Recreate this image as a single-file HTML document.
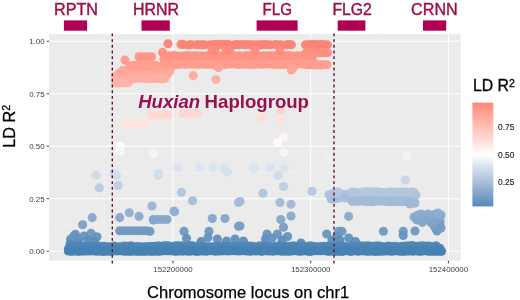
<!DOCTYPE html>
<html><head><meta charset="utf-8"><title>LD R2 plot</title>
<style>
html,body{margin:0;padding:0;background:#fff;}
body{width:520px;height:300px;overflow:hidden;}
svg{display:block;}
text{font-family:"Liberation Sans",sans-serif;}
.tick{font-size:7.9px;fill:#3d3d3d;}
.leg{font-size:8.4px;fill:#1a1a1a;stroke:#1a1a1a;stroke-width:0.12px;}
.gene{font-size:16.1px;fill:#9c1048;stroke:#9c1048;stroke-width:0.4px;}
.anno{font-size:18.4px;font-weight:bold;fill:#99104e;}
.title{font-size:16.9px;fill:#000;stroke:#000;stroke-width:0.25px;}
.title2{font-size:15.8px;fill:#000;stroke:#000;stroke-width:0.3px;}
</style></head><body>
<svg width="520" height="300" viewBox="0 0 520 300">
<rect width="520" height="300" fill="#fff"/>
<rect x="49.0" y="34.0" width="411.7" height="226.60000000000002" fill="#ebebeb"/>
<line x1="49.0" x2="460.7" y1="67.45" y2="67.45" stroke="#f4f4f4" stroke-width="0.55"/>
<line x1="49.0" x2="460.7" y1="119.95" y2="119.95" stroke="#f4f4f4" stroke-width="0.55"/>
<line x1="49.0" x2="460.7" y1="172.45" y2="172.45" stroke="#f4f4f4" stroke-width="0.55"/>
<line x1="49.0" x2="460.7" y1="224.95" y2="224.95" stroke="#f4f4f4" stroke-width="0.55"/>
<line y1="34.0" y2="260.6" x1="104.15" x2="104.15" stroke="#f4f4f4" stroke-width="0.55"/>
<line y1="34.0" y2="260.6" x1="241.85" x2="241.85" stroke="#f4f4f4" stroke-width="0.55"/>
<line y1="34.0" y2="260.6" x1="379.55" x2="379.55" stroke="#f4f4f4" stroke-width="0.55"/>
<line x1="49.0" x2="460.7" y1="41.20" y2="41.20" stroke="#ffffff" stroke-width="1.05"/>
<line x1="49.0" x2="460.7" y1="93.70" y2="93.70" stroke="#ffffff" stroke-width="1.05"/>
<line x1="49.0" x2="460.7" y1="146.20" y2="146.20" stroke="#ffffff" stroke-width="1.05"/>
<line x1="49.0" x2="460.7" y1="198.70" y2="198.70" stroke="#ffffff" stroke-width="1.05"/>
<line x1="49.0" x2="460.7" y1="251.20" y2="251.20" stroke="#ffffff" stroke-width="1.05"/>
<line y1="34.0" y2="260.6" x1="173.00" x2="173.00" stroke="#ffffff" stroke-width="1.05"/>
<line y1="34.0" y2="260.6" x1="310.70" x2="310.70" stroke="#ffffff" stroke-width="1.05"/>
<line y1="34.0" y2="260.6" x1="448.40" x2="448.40" stroke="#ffffff" stroke-width="1.05"/>
<g fill-opacity="0.95">
<circle cx="92.2" cy="217.6" r="4.55" fill="#87a8cc"/>
<circle cx="82.6" cy="224.8" r="4.55" fill="#7aa0c7"/>
<circle cx="91.0" cy="233.2" r="4.55" fill="#6b96c1"/>
<circle cx="97.0" cy="236.8" r="4.55" fill="#6492be"/>
<circle cx="75.4" cy="234.4" r="4.55" fill="#6895c0"/>
<circle cx="70.6" cy="239.2" r="4.55" fill="#5f8fbd"/>
<circle cx="79.0" cy="239.0" r="4.55" fill="#6090bd"/>
<circle cx="73.8" cy="236.0" r="4.55" fill="#6593bf"/>
<circle cx="84.0" cy="236.0" r="4.55" fill="#6593bf"/>
<circle cx="88.0" cy="240.0" r="4.55" fill="#5e8ebc"/>
<circle cx="94.0" cy="241.0" r="4.55" fill="#5c8dbb"/>
<circle cx="78.0" cy="243.0" r="4.55" fill="#588bba"/>
<circle cx="70.0" cy="244.0" r="4.55" fill="#568ab9"/>
<circle cx="95.9" cy="175.3" r="4.55" fill="#cedbea"/>
<circle cx="99.3" cy="187.9" r="4.55" fill="#b9cbe1"/>
<circle cx="116.3" cy="175.3" r="4.55" fill="#cedbea"/>
<circle cx="118.0" cy="185.5" r="4.55" fill="#bdcee3"/>
<circle cx="158.2" cy="175.3" r="4.55" fill="#cedbea"/>
<circle cx="119.7" cy="217.6" r="4.55" fill="#87a8cc"/>
<circle cx="129.3" cy="212.8" r="4.55" fill="#8faecf"/>
<circle cx="139.0" cy="216.4" r="4.55" fill="#89aacd"/>
<circle cx="153.3" cy="220.0" r="4.55" fill="#83a5ca"/>
<circle cx="152.0" cy="206.0" r="4.55" fill="#9bb6d4"/>
<circle cx="174.0" cy="211.0" r="4.55" fill="#92b0d1"/>
<circle cx="119.7" cy="230.8" r="4.55" fill="#6f99c2"/>
<circle cx="124.1" cy="230.8" r="4.55" fill="#6f99c2"/>
<circle cx="128.5" cy="230.8" r="4.55" fill="#6f99c2"/>
<circle cx="132.8" cy="230.8" r="4.55" fill="#6f99c2"/>
<circle cx="137.2" cy="230.8" r="4.55" fill="#6f99c2"/>
<circle cx="141.6" cy="230.8" r="4.55" fill="#6f99c2"/>
<circle cx="146.0" cy="230.8" r="4.55" fill="#6f99c2"/>
<circle cx="153.5" cy="219.5" r="4.55" fill="#83a6cb"/>
<circle cx="158.0" cy="219.5" r="4.55" fill="#83a6cb"/>
<circle cx="162.5" cy="219.5" r="4.55" fill="#83a6cb"/>
<circle cx="167.0" cy="219.5" r="4.55" fill="#83a6cb"/>
<circle cx="178.0" cy="167.5" r="4.55" fill="#dbe4f0"/>
<circle cx="199.4" cy="167.5" r="4.55" fill="#dbe4f0"/>
<circle cx="213.0" cy="167.5" r="4.55" fill="#dbe4f0"/>
<circle cx="224.0" cy="168.0" r="4.55" fill="#dbe4ef"/>
<circle cx="181.4" cy="192.3" r="4.55" fill="#b2c6de"/>
<circle cx="192.6" cy="200.8" r="4.55" fill="#a4bcd8"/>
<circle cx="238.5" cy="202.5" r="4.55" fill="#a1bad7"/>
<circle cx="174.6" cy="211.7" r="4.55" fill="#91afd0"/>
<circle cx="212.3" cy="218.5" r="4.55" fill="#85a7cb"/>
<circle cx="225.0" cy="218.5" r="4.55" fill="#85a7cb"/>
<circle cx="238.5" cy="226.3" r="4.55" fill="#779ec6"/>
<circle cx="150.0" cy="231.4" r="4.55" fill="#6e98c2"/>
<circle cx="184.0" cy="231.4" r="4.55" fill="#6e98c2"/>
<circle cx="186.5" cy="238.2" r="4.55" fill="#6191bd"/>
<circle cx="209.0" cy="231.4" r="4.55" fill="#6e98c2"/>
<circle cx="208.0" cy="237.5" r="4.55" fill="#6291be"/>
<circle cx="217.4" cy="239.0" r="4.55" fill="#6090bd"/>
<circle cx="201.0" cy="241.6" r="4.55" fill="#5a8dbb"/>
<circle cx="226.6" cy="241.0" r="4.55" fill="#5c8dbb"/>
<circle cx="235.0" cy="239.0" r="4.55" fill="#6090bd"/>
<circle cx="253.6" cy="168.5" r="4.55" fill="#dae3ef"/>
<circle cx="270.6" cy="167.5" r="4.55" fill="#dbe4f0"/>
<circle cx="282.5" cy="165.0" r="4.55" fill="#e0e7f1"/>
<circle cx="278.0" cy="175.3" r="4.55" fill="#cedbea"/>
<circle cx="283.5" cy="186.5" r="4.55" fill="#bccde2"/>
<circle cx="263.0" cy="193.3" r="4.55" fill="#b0c5dd"/>
<circle cx="312.0" cy="191.3" r="4.55" fill="#b4c7df"/>
<circle cx="329.0" cy="194.7" r="4.55" fill="#aec3dc"/>
<circle cx="280.0" cy="202.5" r="4.55" fill="#a1bad7"/>
<circle cx="291.0" cy="204.2" r="4.55" fill="#9eb8d5"/>
<circle cx="240.0" cy="201.5" r="4.55" fill="#a2bbd7"/>
<circle cx="291.0" cy="216.0" r="4.55" fill="#8aaacd"/>
<circle cx="280.8" cy="219.5" r="4.55" fill="#83a6cb"/>
<circle cx="283.5" cy="227.3" r="4.55" fill="#769dc5"/>
<circle cx="240.0" cy="226.0" r="4.55" fill="#789ec6"/>
<circle cx="267.0" cy="234.0" r="4.55" fill="#6995c0"/>
<circle cx="277.4" cy="234.0" r="4.55" fill="#6995c0"/>
<circle cx="287.6" cy="236.5" r="4.55" fill="#6492be"/>
<circle cx="265.5" cy="239.0" r="4.55" fill="#6090bd"/>
<circle cx="243.4" cy="241.0" r="4.55" fill="#5c8dbb"/>
<circle cx="326.7" cy="234.0" r="4.55" fill="#6995c0"/>
<circle cx="338.6" cy="231.4" r="4.55" fill="#6e98c2"/>
<circle cx="301.0" cy="243.0" r="4.55" fill="#588bba"/>
<circle cx="272.0" cy="238.0" r="4.55" fill="#6291bd"/>
<circle cx="282.0" cy="240.0" r="4.55" fill="#5e8ebc"/>
<circle cx="113.8" cy="173.8" r="4.55" fill="#d1ddeb"/>
<circle cx="158.8" cy="173.8" r="4.55" fill="#d1ddeb"/>
<circle cx="177.5" cy="167.5" r="4.55" fill="#dbe4f0"/>
<circle cx="253.8" cy="167.5" r="4.55" fill="#dbe4f0"/>
<circle cx="270.0" cy="167.5" r="4.55" fill="#dbe4f0"/>
<circle cx="282.5" cy="162.5" r="4.55" fill="#e4ebf3"/>
<circle cx="283.8" cy="168.8" r="4.55" fill="#d9e3ef"/>
<circle cx="227.5" cy="172.0" r="4.55" fill="#d4dfec"/>
<circle cx="350.8" cy="196.5" r="4.55" fill="#abc1db"/>
<circle cx="361.7" cy="197.9" r="4.55" fill="#a9bfda"/>
<circle cx="382.9" cy="192.9" r="4.55" fill="#b1c5dd"/>
<circle cx="332.1" cy="198.4" r="4.55" fill="#a8bfda"/>
<circle cx="352.5" cy="194.5" r="4.55" fill="#aec3dc"/>
<circle cx="413.6" cy="196.7" r="4.55" fill="#abc1db"/>
<circle cx="400.4" cy="196.7" r="4.55" fill="#abc1db"/>
<circle cx="384.0" cy="193.7" r="4.55" fill="#b0c4dd"/>
<circle cx="383.7" cy="200.4" r="4.55" fill="#a4bcd8"/>
<circle cx="374.4" cy="199.2" r="4.55" fill="#a6bed9"/>
<circle cx="386.7" cy="192.9" r="4.55" fill="#b1c5dd"/>
<circle cx="393.9" cy="197.8" r="4.55" fill="#a9bfda"/>
<circle cx="356.0" cy="192.6" r="4.55" fill="#b2c6de"/>
<circle cx="402.8" cy="196.7" r="4.55" fill="#abc1db"/>
<circle cx="390.7" cy="200.5" r="4.55" fill="#a4bcd8"/>
<circle cx="390.3" cy="200.9" r="4.55" fill="#a4bcd8"/>
<circle cx="363.8" cy="199.7" r="4.55" fill="#a5bdd9"/>
<circle cx="367.9" cy="201.0" r="4.55" fill="#a3bcd8"/>
<circle cx="403.9" cy="193.2" r="4.55" fill="#b0c5dd"/>
<circle cx="342.3" cy="194.4" r="4.55" fill="#aec4dc"/>
<circle cx="411.1" cy="196.4" r="4.55" fill="#abc1db"/>
<circle cx="383.0" cy="195.1" r="4.55" fill="#adc3dc"/>
<circle cx="373.1" cy="195.9" r="4.55" fill="#acc2db"/>
<circle cx="360.1" cy="197.7" r="4.55" fill="#a9c0da"/>
<circle cx="379.5" cy="200.7" r="4.55" fill="#a4bcd8"/>
<circle cx="387.6" cy="200.9" r="4.55" fill="#a3bcd8"/>
<circle cx="402.1" cy="201.5" r="4.55" fill="#a2bbd7"/>
<circle cx="386.7" cy="193.8" r="4.55" fill="#afc4dd"/>
<circle cx="402.4" cy="201.3" r="4.55" fill="#a3bbd8"/>
<circle cx="406.1" cy="197.6" r="4.55" fill="#a9c0da"/>
<circle cx="390.2" cy="194.3" r="4.55" fill="#afc4dd"/>
<circle cx="400.0" cy="197.6" r="4.55" fill="#a9c0da"/>
<circle cx="354.7" cy="192.9" r="4.55" fill="#b1c5dd"/>
<circle cx="401.9" cy="201.5" r="4.55" fill="#a2bbd7"/>
<circle cx="338.3" cy="198.2" r="4.55" fill="#a8bfda"/>
<circle cx="365.1" cy="193.7" r="4.55" fill="#b0c4dd"/>
<circle cx="355.4" cy="199.4" r="4.55" fill="#a6bed9"/>
<circle cx="403.4" cy="192.7" r="4.55" fill="#b1c6de"/>
<circle cx="382.0" cy="192.7" r="4.55" fill="#b1c6de"/>
<circle cx="390.6" cy="195.4" r="4.55" fill="#adc2dc"/>
<circle cx="404.1" cy="201.4" r="4.55" fill="#a3bbd7"/>
<circle cx="372.9" cy="201.6" r="4.55" fill="#a2bbd7"/>
<circle cx="356.7" cy="193.0" r="4.55" fill="#b1c5dd"/>
<circle cx="380.8" cy="192.6" r="4.55" fill="#b1c6de"/>
<circle cx="347.4" cy="195.7" r="4.55" fill="#acc2dc"/>
<circle cx="381.7" cy="193.8" r="4.55" fill="#b0c4dd"/>
<circle cx="334.5" cy="198.6" r="4.55" fill="#a7bed9"/>
<circle cx="357.0" cy="201.2" r="4.55" fill="#a3bbd8"/>
<circle cx="405.4" cy="195.8" r="4.55" fill="#acc2db"/>
<circle cx="369.2" cy="197.1" r="4.55" fill="#aac0da"/>
<circle cx="384.4" cy="197.8" r="4.55" fill="#a9bfda"/>
<circle cx="377.4" cy="198.1" r="4.55" fill="#a8bfda"/>
<circle cx="409.1" cy="197.0" r="4.55" fill="#aac0db"/>
<circle cx="366.8" cy="199.0" r="4.55" fill="#a7bed9"/>
<circle cx="350.7" cy="195.0" r="4.55" fill="#aec3dc"/>
<circle cx="412.2" cy="197.1" r="4.55" fill="#aac0da"/>
<circle cx="376.5" cy="192.4" r="4.55" fill="#b2c6de"/>
<circle cx="365.5" cy="197.7" r="4.55" fill="#a9c0da"/>
<circle cx="332.7" cy="197.0" r="4.55" fill="#aac0db"/>
<circle cx="383.5" cy="192.9" r="4.55" fill="#b1c5de"/>
<circle cx="383.1" cy="196.6" r="4.55" fill="#abc1db"/>
<circle cx="387.4" cy="195.6" r="4.55" fill="#acc2dc"/>
<circle cx="389.7" cy="199.2" r="4.55" fill="#a6bed9"/>
<circle cx="332.8" cy="193.4" r="4.55" fill="#b0c5dd"/>
<circle cx="387.1" cy="201.3" r="4.55" fill="#a3bbd8"/>
<circle cx="351.8" cy="196.0" r="4.55" fill="#acc2db"/>
<circle cx="380.2" cy="195.3" r="4.55" fill="#adc3dc"/>
<circle cx="361.2" cy="195.2" r="4.55" fill="#adc3dc"/>
<circle cx="361.6" cy="197.8" r="4.55" fill="#a9bfda"/>
<circle cx="355.9" cy="195.8" r="4.55" fill="#acc2db"/>
<circle cx="395.1" cy="192.6" r="4.55" fill="#b2c6de"/>
<circle cx="378.2" cy="199.1" r="4.55" fill="#a6bed9"/>
<circle cx="356.7" cy="194.4" r="4.55" fill="#afc4dc"/>
<circle cx="397.7" cy="194.5" r="4.55" fill="#aec3dc"/>
<circle cx="346.6" cy="195.8" r="4.55" fill="#acc2db"/>
<circle cx="388.9" cy="193.2" r="4.55" fill="#b0c5dd"/>
<circle cx="357.7" cy="195.4" r="4.55" fill="#adc2dc"/>
<circle cx="400.2" cy="196.4" r="4.55" fill="#abc1db"/>
<circle cx="402.0" cy="193.9" r="4.55" fill="#afc4dd"/>
<circle cx="358.9" cy="198.3" r="4.55" fill="#a8bfda"/>
<circle cx="404.4" cy="196.5" r="4.55" fill="#abc1db"/>
<circle cx="349.7" cy="193.8" r="4.55" fill="#afc4dd"/>
<circle cx="375.0" cy="194.1" r="4.55" fill="#afc4dd"/>
<circle cx="398.0" cy="200.1" r="4.55" fill="#a5bdd8"/>
<circle cx="346.2" cy="194.8" r="4.55" fill="#aec3dc"/>
<circle cx="398.0" cy="198.3" r="4.55" fill="#a8bfda"/>
<circle cx="397.9" cy="195.5" r="4.55" fill="#adc2dc"/>
<circle cx="341.8" cy="194.9" r="4.55" fill="#aec3dc"/>
<circle cx="396.9" cy="194.8" r="4.55" fill="#aec3dc"/>
<circle cx="359.7" cy="196.2" r="4.55" fill="#abc1db"/>
<circle cx="365.8" cy="196.1" r="4.55" fill="#acc2db"/>
<circle cx="407.4" cy="193.8" r="4.55" fill="#b0c4dd"/>
<circle cx="331.4" cy="199.1" r="4.55" fill="#a6bed9"/>
<circle cx="404.0" cy="201.5" r="4.55" fill="#a2bbd7"/>
<circle cx="367.1" cy="201.1" r="4.55" fill="#a3bcd8"/>
<circle cx="408.0" cy="194.4" r="4.55" fill="#afc4dc"/>
<circle cx="392.9" cy="200.1" r="4.55" fill="#a5bdd8"/>
<circle cx="386.0" cy="197.1" r="4.55" fill="#aac0da"/>
<circle cx="355.0" cy="195.5" r="4.55" fill="#adc2dc"/>
<circle cx="349.9" cy="193.4" r="4.55" fill="#b0c5dd"/>
<circle cx="379.9" cy="195.0" r="4.55" fill="#adc3dc"/>
<circle cx="398.2" cy="192.7" r="4.55" fill="#b1c6de"/>
<circle cx="406.0" cy="198.8" r="4.55" fill="#a7bed9"/>
<circle cx="407.7" cy="200.6" r="4.55" fill="#a4bcd8"/>
<circle cx="405.7" cy="197.7" r="4.55" fill="#a9c0da"/>
<circle cx="332.1" cy="197.8" r="4.55" fill="#a9bfda"/>
<circle cx="345.3" cy="194.9" r="4.55" fill="#aec3dc"/>
<circle cx="386.0" cy="197.2" r="4.55" fill="#aac0da"/>
<circle cx="365.3" cy="201.0" r="4.55" fill="#a3bcd8"/>
<circle cx="381.8" cy="195.5" r="4.55" fill="#adc2dc"/>
<circle cx="352.0" cy="198.6" r="4.55" fill="#a7bfd9"/>
<circle cx="370.6" cy="199.6" r="4.55" fill="#a6bdd9"/>
<circle cx="360.2" cy="194.1" r="4.55" fill="#afc4dd"/>
<circle cx="375.4" cy="199.9" r="4.55" fill="#a5bdd8"/>
<circle cx="345.2" cy="198.1" r="4.55" fill="#a8bfda"/>
<circle cx="407.5" cy="199.8" r="4.55" fill="#a5bdd9"/>
<circle cx="399.4" cy="192.4" r="4.55" fill="#b2c6de"/>
<circle cx="383.2" cy="200.3" r="4.55" fill="#a4bcd8"/>
<circle cx="335.1" cy="194.8" r="4.55" fill="#aec3dc"/>
<circle cx="353.3" cy="197.2" r="4.55" fill="#aac0da"/>
<circle cx="352.0" cy="192.1" r="4.55" fill="#b2c6de"/>
<circle cx="355.9" cy="192.2" r="4.55" fill="#b2c6de"/>
<circle cx="359.8" cy="192.5" r="4.55" fill="#b2c6de"/>
<circle cx="363.6" cy="191.7" r="4.55" fill="#b3c7de"/>
<circle cx="367.5" cy="191.8" r="4.55" fill="#b3c7de"/>
<circle cx="371.4" cy="191.8" r="4.55" fill="#b3c7de"/>
<circle cx="375.2" cy="191.8" r="4.55" fill="#b3c7de"/>
<circle cx="379.1" cy="191.8" r="4.55" fill="#b3c7de"/>
<circle cx="383.0" cy="192.7" r="4.55" fill="#b1c6de"/>
<circle cx="386.9" cy="192.6" r="4.55" fill="#b2c6de"/>
<circle cx="390.8" cy="191.8" r="4.55" fill="#b3c7de"/>
<circle cx="394.6" cy="192.2" r="4.55" fill="#b2c6de"/>
<circle cx="398.5" cy="192.0" r="4.55" fill="#b2c6de"/>
<circle cx="402.4" cy="192.0" r="4.55" fill="#b2c6de"/>
<circle cx="406.2" cy="192.1" r="4.55" fill="#b2c6de"/>
<circle cx="410.1" cy="192.3" r="4.55" fill="#b2c6de"/>
<circle cx="414.0" cy="192.3" r="4.55" fill="#b2c6de"/>
<circle cx="352.0" cy="201.4" r="4.55" fill="#a3bbd7"/>
<circle cx="355.9" cy="201.2" r="4.55" fill="#a3bbd8"/>
<circle cx="359.8" cy="201.3" r="4.55" fill="#a3bbd7"/>
<circle cx="363.6" cy="201.1" r="4.55" fill="#a3bcd8"/>
<circle cx="367.5" cy="201.6" r="4.55" fill="#a2bbd7"/>
<circle cx="371.4" cy="201.7" r="4.55" fill="#a2bbd7"/>
<circle cx="375.2" cy="201.4" r="4.55" fill="#a3bbd7"/>
<circle cx="379.1" cy="201.1" r="4.55" fill="#a3bcd8"/>
<circle cx="383.0" cy="201.2" r="4.55" fill="#a3bbd8"/>
<circle cx="386.9" cy="201.4" r="4.55" fill="#a3bbd7"/>
<circle cx="390.8" cy="201.6" r="4.55" fill="#a2bbd7"/>
<circle cx="394.6" cy="201.8" r="4.55" fill="#a2bbd7"/>
<circle cx="398.5" cy="201.4" r="4.55" fill="#a3bbd7"/>
<circle cx="402.4" cy="201.8" r="4.55" fill="#a2bbd7"/>
<circle cx="406.2" cy="201.6" r="4.55" fill="#a2bbd7"/>
<circle cx="410.1" cy="201.4" r="4.55" fill="#a3bbd7"/>
<circle cx="414.0" cy="201.4" r="4.55" fill="#a3bbd7"/>
<circle cx="334.0" cy="195.0" r="4.55" fill="#adc3dc"/>
<circle cx="334.0" cy="199.0" r="4.55" fill="#a7bed9"/>
<circle cx="338.0" cy="192.0" r="4.55" fill="#b2c6de"/>
<circle cx="414.0" cy="203.0" r="4.55" fill="#a0b9d6"/>
<circle cx="410.0" cy="204.0" r="4.55" fill="#9eb8d6"/>
<circle cx="412.0" cy="192.0" r="4.55" fill="#b2c6de"/>
<circle cx="405.5" cy="180.0" r="4.55" fill="#c7d5e7"/>
<circle cx="348.6" cy="216.4" r="4.55" fill="#89aacd"/>
<circle cx="383.4" cy="231.3" r="4.55" fill="#6e98c2"/>
<circle cx="403.2" cy="231.3" r="4.55" fill="#6e98c2"/>
<circle cx="403.2" cy="235.5" r="4.55" fill="#6694bf"/>
<circle cx="415.0" cy="231.0" r="4.55" fill="#6f99c2"/>
<circle cx="342.0" cy="231.4" r="4.55" fill="#6e98c2"/>
<circle cx="336.8" cy="236.5" r="4.55" fill="#6492be"/>
<circle cx="348.7" cy="238.0" r="4.55" fill="#6291bd"/>
<circle cx="355.5" cy="241.6" r="4.55" fill="#5a8dbb"/>
<circle cx="332.0" cy="240.0" r="4.55" fill="#5e8ebc"/>
<circle cx="340.0" cy="240.0" r="4.55" fill="#5e8ebc"/>
<circle cx="414.0" cy="217.0" r="4.55" fill="#88a9cc"/>
<circle cx="421.0" cy="214.0" r="4.55" fill="#8dacce"/>
<circle cx="427.8" cy="214.0" r="4.55" fill="#8dacce"/>
<circle cx="436.0" cy="214.0" r="4.55" fill="#8dacce"/>
<circle cx="440.0" cy="221.0" r="4.55" fill="#81a4c9"/>
<circle cx="422.3" cy="222.3" r="4.55" fill="#7ea3c9"/>
<circle cx="430.5" cy="222.3" r="4.55" fill="#7ea3c9"/>
<circle cx="436.0" cy="229.0" r="4.55" fill="#729bc4"/>
<circle cx="438.7" cy="226.4" r="4.55" fill="#779ec6"/>
<circle cx="417.0" cy="220.0" r="4.55" fill="#83a5ca"/>
<circle cx="432.0" cy="218.0" r="4.55" fill="#86a8cc"/>
<circle cx="425.0" cy="218.0" r="4.55" fill="#86a8cc"/>
<circle cx="440.0" cy="217.0" r="4.55" fill="#88a9cc"/>
<circle cx="420.0" cy="219.0" r="4.55" fill="#84a6cb"/>
<circle cx="424.0" cy="216.0" r="4.55" fill="#8aaacd"/>
<circle cx="428.0" cy="219.0" r="4.55" fill="#84a6cb"/>
<circle cx="432.0" cy="215.0" r="4.55" fill="#8babce"/>
<circle cx="436.0" cy="218.0" r="4.55" fill="#86a8cc"/>
<circle cx="440.0" cy="224.0" r="4.55" fill="#7ba1c7"/>
<circle cx="437.0" cy="231.0" r="4.55" fill="#6f99c2"/>
<circle cx="434.0" cy="226.0" r="4.55" fill="#789ec6"/>
<circle cx="441.0" cy="215.0" r="4.55" fill="#8babce"/>
<circle cx="438.0" cy="213.0" r="4.55" fill="#8fadcf"/>
<circle cx="418.0" cy="215.0" r="4.55" fill="#8babce"/>
<circle cx="433.0" cy="222.0" r="4.55" fill="#7fa3c9"/>
<circle cx="441.0" cy="228.0" r="4.55" fill="#749cc4"/>
<circle cx="416.0" cy="195.0" r="4.55" fill="#adc3dc"/>
<circle cx="415.0" cy="203.0" r="4.55" fill="#a0b9d6"/>
<circle cx="70.0" cy="246.3" r="4.55" fill="#5187b7"/>
<circle cx="73.4" cy="246.6" r="4.55" fill="#5087b7"/>
<circle cx="76.8" cy="246.2" r="4.55" fill="#5188b8"/>
<circle cx="80.2" cy="246.6" r="4.55" fill="#5087b7"/>
<circle cx="83.6" cy="246.2" r="4.55" fill="#5187b8"/>
<circle cx="86.9" cy="245.9" r="4.55" fill="#5288b8"/>
<circle cx="90.3" cy="246.4" r="4.55" fill="#5187b7"/>
<circle cx="93.7" cy="246.6" r="4.55" fill="#5087b7"/>
<circle cx="97.1" cy="245.7" r="4.55" fill="#5288b8"/>
<circle cx="100.5" cy="246.2" r="4.55" fill="#5188b8"/>
<circle cx="103.9" cy="246.2" r="4.55" fill="#5188b8"/>
<circle cx="107.3" cy="246.8" r="4.55" fill="#5087b7"/>
<circle cx="110.7" cy="246.9" r="4.55" fill="#4f87b7"/>
<circle cx="114.1" cy="246.1" r="4.55" fill="#5188b8"/>
<circle cx="117.4" cy="246.9" r="4.55" fill="#5087b7"/>
<circle cx="120.8" cy="246.7" r="4.55" fill="#5087b7"/>
<circle cx="124.2" cy="246.0" r="4.55" fill="#5188b8"/>
<circle cx="127.6" cy="246.2" r="4.55" fill="#5187b8"/>
<circle cx="131.0" cy="245.8" r="4.55" fill="#5288b8"/>
<circle cx="134.4" cy="246.7" r="4.55" fill="#5087b7"/>
<circle cx="137.8" cy="246.5" r="4.55" fill="#5087b7"/>
<circle cx="141.2" cy="246.8" r="4.55" fill="#5087b7"/>
<circle cx="144.6" cy="246.7" r="4.55" fill="#5087b7"/>
<circle cx="147.9" cy="246.5" r="4.55" fill="#5087b7"/>
<circle cx="151.3" cy="246.6" r="4.55" fill="#5087b7"/>
<circle cx="154.7" cy="246.4" r="4.55" fill="#5187b7"/>
<circle cx="158.1" cy="245.7" r="4.55" fill="#5288b8"/>
<circle cx="161.5" cy="246.4" r="4.55" fill="#5187b7"/>
<circle cx="164.9" cy="245.6" r="4.55" fill="#5288b8"/>
<circle cx="168.3" cy="245.8" r="4.55" fill="#5288b8"/>
<circle cx="171.7" cy="246.7" r="4.55" fill="#5087b7"/>
<circle cx="175.1" cy="245.7" r="4.55" fill="#5288b8"/>
<circle cx="178.4" cy="245.7" r="4.55" fill="#5288b8"/>
<circle cx="181.8" cy="245.7" r="4.55" fill="#5288b8"/>
<circle cx="185.2" cy="246.8" r="4.55" fill="#5087b7"/>
<circle cx="188.6" cy="245.9" r="4.55" fill="#5288b8"/>
<circle cx="192.0" cy="245.6" r="4.55" fill="#5288b8"/>
<circle cx="195.4" cy="246.8" r="4.55" fill="#5087b7"/>
<circle cx="198.8" cy="245.8" r="4.55" fill="#5288b8"/>
<circle cx="202.2" cy="246.8" r="4.55" fill="#5087b7"/>
<circle cx="205.6" cy="246.5" r="4.55" fill="#5087b7"/>
<circle cx="208.9" cy="246.8" r="4.55" fill="#5087b7"/>
<circle cx="212.3" cy="246.9" r="4.55" fill="#4f87b7"/>
<circle cx="215.7" cy="246.4" r="4.55" fill="#5187b7"/>
<circle cx="219.1" cy="246.7" r="4.55" fill="#5087b7"/>
<circle cx="222.5" cy="245.7" r="4.55" fill="#5288b8"/>
<circle cx="225.9" cy="246.7" r="4.55" fill="#5087b7"/>
<circle cx="229.3" cy="246.3" r="4.55" fill="#5187b7"/>
<circle cx="232.7" cy="246.6" r="4.55" fill="#5087b7"/>
<circle cx="236.1" cy="245.7" r="4.55" fill="#5288b8"/>
<circle cx="239.4" cy="246.6" r="4.55" fill="#5087b7"/>
<circle cx="242.8" cy="246.9" r="4.55" fill="#4f87b7"/>
<circle cx="246.2" cy="245.7" r="4.55" fill="#5288b8"/>
<circle cx="249.6" cy="246.1" r="4.55" fill="#5188b8"/>
<circle cx="253.0" cy="246.4" r="4.55" fill="#5187b7"/>
<circle cx="256.4" cy="246.8" r="4.55" fill="#5087b7"/>
<circle cx="259.8" cy="245.9" r="4.55" fill="#5288b8"/>
<circle cx="263.2" cy="245.9" r="4.55" fill="#5288b8"/>
<circle cx="266.6" cy="245.9" r="4.55" fill="#5288b8"/>
<circle cx="269.9" cy="246.5" r="4.55" fill="#5087b7"/>
<circle cx="273.3" cy="246.7" r="4.55" fill="#5087b7"/>
<circle cx="276.7" cy="246.2" r="4.55" fill="#5188b8"/>
<circle cx="280.1" cy="246.1" r="4.55" fill="#5188b8"/>
<circle cx="283.5" cy="246.2" r="4.55" fill="#5188b8"/>
<circle cx="286.9" cy="246.1" r="4.55" fill="#5188b8"/>
<circle cx="290.3" cy="246.2" r="4.55" fill="#5188b8"/>
<circle cx="293.7" cy="245.7" r="4.55" fill="#5288b8"/>
<circle cx="297.1" cy="246.3" r="4.55" fill="#5187b7"/>
<circle cx="300.4" cy="247.0" r="4.55" fill="#4f87b7"/>
<circle cx="303.8" cy="246.2" r="4.55" fill="#5188b8"/>
<circle cx="307.2" cy="246.6" r="4.55" fill="#5087b7"/>
<circle cx="310.6" cy="245.8" r="4.55" fill="#5288b8"/>
<circle cx="314.0" cy="246.6" r="4.55" fill="#5087b7"/>
<circle cx="317.4" cy="246.7" r="4.55" fill="#5087b7"/>
<circle cx="320.8" cy="246.5" r="4.55" fill="#5087b7"/>
<circle cx="324.2" cy="246.3" r="4.55" fill="#5187b7"/>
<circle cx="327.6" cy="246.3" r="4.55" fill="#5187b7"/>
<circle cx="330.9" cy="246.5" r="4.55" fill="#5087b7"/>
<circle cx="334.3" cy="246.9" r="4.55" fill="#5087b7"/>
<circle cx="337.7" cy="245.8" r="4.55" fill="#5288b8"/>
<circle cx="341.1" cy="245.7" r="4.55" fill="#5288b8"/>
<circle cx="344.5" cy="246.6" r="4.55" fill="#5087b7"/>
<circle cx="347.9" cy="246.9" r="4.55" fill="#5087b7"/>
<circle cx="351.3" cy="246.3" r="4.55" fill="#5187b7"/>
<circle cx="354.7" cy="246.2" r="4.55" fill="#5188b8"/>
<circle cx="358.1" cy="246.6" r="4.55" fill="#5087b7"/>
<circle cx="361.4" cy="245.9" r="4.55" fill="#5288b8"/>
<circle cx="364.8" cy="246.0" r="4.55" fill="#5188b8"/>
<circle cx="368.2" cy="245.9" r="4.55" fill="#5288b8"/>
<circle cx="371.6" cy="246.4" r="4.55" fill="#5187b7"/>
<circle cx="375.0" cy="246.0" r="4.55" fill="#5188b8"/>
<circle cx="378.4" cy="245.9" r="4.55" fill="#5288b8"/>
<circle cx="381.8" cy="246.6" r="4.55" fill="#5087b7"/>
<circle cx="385.2" cy="246.9" r="4.55" fill="#4f87b7"/>
<circle cx="388.6" cy="246.0" r="4.55" fill="#5188b8"/>
<circle cx="391.9" cy="246.6" r="4.55" fill="#5087b7"/>
<circle cx="395.3" cy="246.2" r="4.55" fill="#5188b8"/>
<circle cx="398.7" cy="246.8" r="4.55" fill="#5087b7"/>
<circle cx="402.1" cy="246.4" r="4.55" fill="#5187b7"/>
<circle cx="405.5" cy="246.0" r="4.55" fill="#5188b8"/>
<circle cx="408.9" cy="245.9" r="4.55" fill="#5288b8"/>
<circle cx="412.3" cy="245.6" r="4.55" fill="#5288b8"/>
<circle cx="415.7" cy="246.3" r="4.55" fill="#5187b7"/>
<circle cx="419.1" cy="246.1" r="4.55" fill="#5188b8"/>
<circle cx="422.4" cy="245.8" r="4.55" fill="#5288b8"/>
<circle cx="425.8" cy="246.1" r="4.55" fill="#5188b8"/>
<circle cx="429.2" cy="246.1" r="4.55" fill="#5188b8"/>
<circle cx="432.6" cy="246.7" r="4.55" fill="#5087b7"/>
<circle cx="436.0" cy="245.8" r="4.55" fill="#5288b8"/>
<circle cx="68.5" cy="248.6" r="4.55" fill="#4c85b6"/>
<circle cx="71.1" cy="247.8" r="4.55" fill="#4e86b6"/>
<circle cx="73.7" cy="248.0" r="4.55" fill="#4d86b6"/>
<circle cx="76.3" cy="247.7" r="4.55" fill="#4e86b6"/>
<circle cx="78.9" cy="248.3" r="4.55" fill="#4c85b6"/>
<circle cx="81.5" cy="248.3" r="4.55" fill="#4c85b6"/>
<circle cx="84.1" cy="247.9" r="4.55" fill="#4d86b6"/>
<circle cx="86.7" cy="247.8" r="4.55" fill="#4e86b6"/>
<circle cx="89.3" cy="248.2" r="4.55" fill="#4d85b6"/>
<circle cx="91.9" cy="248.4" r="4.55" fill="#4c85b6"/>
<circle cx="94.5" cy="247.6" r="4.55" fill="#4e86b7"/>
<circle cx="97.1" cy="248.2" r="4.55" fill="#4d85b6"/>
<circle cx="99.7" cy="248.5" r="4.55" fill="#4c85b6"/>
<circle cx="102.3" cy="247.7" r="4.55" fill="#4e86b6"/>
<circle cx="104.9" cy="247.4" r="4.55" fill="#4e86b7"/>
<circle cx="107.5" cy="247.4" r="4.55" fill="#4e86b7"/>
<circle cx="110.1" cy="248.1" r="4.55" fill="#4d85b6"/>
<circle cx="112.7" cy="248.1" r="4.55" fill="#4d85b6"/>
<circle cx="115.3" cy="248.5" r="4.55" fill="#4c85b6"/>
<circle cx="117.9" cy="248.4" r="4.55" fill="#4c85b6"/>
<circle cx="120.5" cy="247.4" r="4.55" fill="#4e86b7"/>
<circle cx="123.1" cy="247.3" r="4.55" fill="#4f86b7"/>
<circle cx="125.7" cy="247.4" r="4.55" fill="#4e86b7"/>
<circle cx="128.3" cy="247.3" r="4.55" fill="#4f86b7"/>
<circle cx="130.8" cy="248.1" r="4.55" fill="#4d85b6"/>
<circle cx="133.4" cy="248.4" r="4.55" fill="#4c85b6"/>
<circle cx="136.0" cy="248.4" r="4.55" fill="#4c85b6"/>
<circle cx="138.6" cy="247.4" r="4.55" fill="#4e86b7"/>
<circle cx="141.2" cy="248.4" r="4.55" fill="#4c85b6"/>
<circle cx="143.8" cy="247.5" r="4.55" fill="#4e86b7"/>
<circle cx="146.4" cy="247.7" r="4.55" fill="#4e86b6"/>
<circle cx="149.0" cy="248.2" r="4.55" fill="#4d85b6"/>
<circle cx="151.6" cy="247.1" r="4.55" fill="#4f87b7"/>
<circle cx="154.2" cy="247.1" r="4.55" fill="#4f86b7"/>
<circle cx="156.8" cy="248.3" r="4.55" fill="#4c85b6"/>
<circle cx="159.4" cy="247.5" r="4.55" fill="#4e86b7"/>
<circle cx="162.0" cy="247.6" r="4.55" fill="#4e86b7"/>
<circle cx="164.6" cy="247.9" r="4.55" fill="#4d86b6"/>
<circle cx="167.2" cy="248.1" r="4.55" fill="#4d85b6"/>
<circle cx="169.8" cy="247.0" r="4.55" fill="#4f87b7"/>
<circle cx="172.4" cy="247.5" r="4.55" fill="#4e86b7"/>
<circle cx="175.0" cy="247.7" r="4.55" fill="#4e86b6"/>
<circle cx="177.6" cy="247.8" r="4.55" fill="#4e86b6"/>
<circle cx="180.2" cy="247.3" r="4.55" fill="#4f86b7"/>
<circle cx="182.8" cy="247.9" r="4.55" fill="#4d86b6"/>
<circle cx="185.4" cy="248.5" r="4.55" fill="#4c85b6"/>
<circle cx="188.0" cy="247.6" r="4.55" fill="#4e86b7"/>
<circle cx="190.6" cy="247.9" r="4.55" fill="#4d86b6"/>
<circle cx="193.2" cy="247.2" r="4.55" fill="#4f86b7"/>
<circle cx="195.8" cy="247.4" r="4.55" fill="#4e86b7"/>
<circle cx="198.4" cy="248.1" r="4.55" fill="#4d85b6"/>
<circle cx="201.0" cy="247.2" r="4.55" fill="#4f86b7"/>
<circle cx="203.6" cy="248.4" r="4.55" fill="#4c85b6"/>
<circle cx="206.2" cy="248.5" r="4.55" fill="#4c85b6"/>
<circle cx="208.8" cy="247.2" r="4.55" fill="#4f86b7"/>
<circle cx="211.4" cy="248.5" r="4.55" fill="#4c85b6"/>
<circle cx="214.0" cy="247.6" r="4.55" fill="#4e86b7"/>
<circle cx="216.6" cy="248.2" r="4.55" fill="#4d85b6"/>
<circle cx="219.2" cy="248.2" r="4.55" fill="#4d85b6"/>
<circle cx="221.8" cy="247.5" r="4.55" fill="#4e86b7"/>
<circle cx="224.4" cy="248.1" r="4.55" fill="#4d85b6"/>
<circle cx="227.0" cy="248.0" r="4.55" fill="#4d85b6"/>
<circle cx="229.6" cy="248.3" r="4.55" fill="#4d85b6"/>
<circle cx="232.2" cy="247.4" r="4.55" fill="#4e86b7"/>
<circle cx="234.8" cy="248.2" r="4.55" fill="#4d85b6"/>
<circle cx="237.4" cy="248.5" r="4.55" fill="#4c85b6"/>
<circle cx="240.0" cy="248.1" r="4.55" fill="#4d85b6"/>
<circle cx="242.6" cy="247.9" r="4.55" fill="#4d86b6"/>
<circle cx="245.2" cy="247.2" r="4.55" fill="#4f86b7"/>
<circle cx="247.8" cy="247.8" r="4.55" fill="#4e86b6"/>
<circle cx="250.4" cy="247.6" r="4.55" fill="#4e86b7"/>
<circle cx="253.0" cy="248.1" r="4.55" fill="#4d85b6"/>
<circle cx="255.5" cy="248.1" r="4.55" fill="#4d85b6"/>
<circle cx="258.1" cy="247.9" r="4.55" fill="#4d86b6"/>
<circle cx="260.7" cy="247.3" r="4.55" fill="#4f86b7"/>
<circle cx="263.3" cy="248.0" r="4.55" fill="#4d86b6"/>
<circle cx="265.9" cy="248.0" r="4.55" fill="#4d86b6"/>
<circle cx="268.5" cy="247.3" r="4.55" fill="#4f86b7"/>
<circle cx="271.1" cy="248.4" r="4.55" fill="#4c85b6"/>
<circle cx="273.7" cy="248.0" r="4.55" fill="#4d85b6"/>
<circle cx="276.3" cy="247.2" r="4.55" fill="#4f86b7"/>
<circle cx="278.9" cy="248.5" r="4.55" fill="#4c85b6"/>
<circle cx="281.5" cy="247.2" r="4.55" fill="#4f86b7"/>
<circle cx="284.1" cy="247.5" r="4.55" fill="#4e86b7"/>
<circle cx="286.7" cy="248.2" r="4.55" fill="#4d85b6"/>
<circle cx="289.3" cy="248.0" r="4.55" fill="#4d86b6"/>
<circle cx="291.9" cy="247.9" r="4.55" fill="#4d86b6"/>
<circle cx="294.5" cy="248.0" r="4.55" fill="#4d86b6"/>
<circle cx="297.1" cy="247.7" r="4.55" fill="#4e86b6"/>
<circle cx="299.7" cy="247.5" r="4.55" fill="#4e86b7"/>
<circle cx="302.3" cy="247.3" r="4.55" fill="#4f86b7"/>
<circle cx="304.9" cy="247.1" r="4.55" fill="#4f87b7"/>
<circle cx="307.5" cy="248.1" r="4.55" fill="#4d85b6"/>
<circle cx="310.1" cy="248.2" r="4.55" fill="#4d85b6"/>
<circle cx="312.7" cy="247.9" r="4.55" fill="#4d86b6"/>
<circle cx="315.3" cy="248.2" r="4.55" fill="#4d85b6"/>
<circle cx="317.9" cy="247.6" r="4.55" fill="#4e86b7"/>
<circle cx="320.5" cy="247.4" r="4.55" fill="#4e86b7"/>
<circle cx="323.1" cy="247.6" r="4.55" fill="#4e86b7"/>
<circle cx="325.7" cy="248.4" r="4.55" fill="#4c85b6"/>
<circle cx="328.3" cy="247.1" r="4.55" fill="#4f87b7"/>
<circle cx="330.9" cy="247.8" r="4.55" fill="#4e86b6"/>
<circle cx="333.5" cy="247.4" r="4.55" fill="#4e86b7"/>
<circle cx="336.1" cy="248.2" r="4.55" fill="#4d85b6"/>
<circle cx="338.7" cy="247.6" r="4.55" fill="#4e86b7"/>
<circle cx="341.3" cy="247.5" r="4.55" fill="#4e86b7"/>
<circle cx="343.9" cy="247.6" r="4.55" fill="#4e86b7"/>
<circle cx="346.5" cy="247.9" r="4.55" fill="#4d86b6"/>
<circle cx="349.1" cy="248.2" r="4.55" fill="#4d85b6"/>
<circle cx="351.7" cy="247.6" r="4.55" fill="#4e86b7"/>
<circle cx="354.3" cy="248.4" r="4.55" fill="#4c85b6"/>
<circle cx="356.9" cy="247.2" r="4.55" fill="#4f86b7"/>
<circle cx="359.5" cy="247.4" r="4.55" fill="#4e86b7"/>
<circle cx="362.1" cy="247.2" r="4.55" fill="#4f86b7"/>
<circle cx="364.7" cy="247.2" r="4.55" fill="#4f86b7"/>
<circle cx="367.3" cy="248.2" r="4.55" fill="#4d85b6"/>
<circle cx="369.9" cy="248.2" r="4.55" fill="#4d85b6"/>
<circle cx="372.5" cy="247.3" r="4.55" fill="#4f86b7"/>
<circle cx="375.1" cy="247.3" r="4.55" fill="#4f86b7"/>
<circle cx="377.7" cy="247.7" r="4.55" fill="#4e86b7"/>
<circle cx="380.2" cy="248.2" r="4.55" fill="#4d85b6"/>
<circle cx="382.8" cy="248.3" r="4.55" fill="#4c85b6"/>
<circle cx="385.4" cy="248.2" r="4.55" fill="#4d85b6"/>
<circle cx="388.0" cy="247.9" r="4.55" fill="#4d86b6"/>
<circle cx="390.6" cy="247.2" r="4.55" fill="#4f86b7"/>
<circle cx="393.2" cy="247.6" r="4.55" fill="#4e86b7"/>
<circle cx="395.8" cy="247.3" r="4.55" fill="#4f86b7"/>
<circle cx="398.4" cy="247.8" r="4.55" fill="#4d86b6"/>
<circle cx="401.0" cy="247.9" r="4.55" fill="#4d86b6"/>
<circle cx="403.6" cy="247.3" r="4.55" fill="#4f86b7"/>
<circle cx="406.2" cy="247.4" r="4.55" fill="#4e86b7"/>
<circle cx="408.8" cy="248.3" r="4.55" fill="#4d85b6"/>
<circle cx="411.4" cy="247.0" r="4.55" fill="#4f87b7"/>
<circle cx="414.0" cy="248.3" r="4.55" fill="#4d85b6"/>
<circle cx="416.6" cy="248.4" r="4.55" fill="#4c85b6"/>
<circle cx="419.2" cy="248.5" r="4.55" fill="#4c85b6"/>
<circle cx="421.8" cy="247.6" r="4.55" fill="#4e86b7"/>
<circle cx="424.4" cy="247.9" r="4.55" fill="#4d86b6"/>
<circle cx="427.0" cy="247.9" r="4.55" fill="#4d86b6"/>
<circle cx="429.6" cy="248.0" r="4.55" fill="#4d86b6"/>
<circle cx="432.2" cy="248.6" r="4.55" fill="#4c85b6"/>
<circle cx="434.8" cy="248.1" r="4.55" fill="#4d85b6"/>
<circle cx="437.4" cy="247.5" r="4.55" fill="#4e86b7"/>
<circle cx="440.0" cy="248.4" r="4.55" fill="#4c85b6"/>
<circle cx="68.3" cy="251.0" r="4.55" fill="#4682b4"/>
<circle cx="70.5" cy="251.1" r="4.55" fill="#4682b4"/>
<circle cx="72.7" cy="251.2" r="4.55" fill="#4682b4"/>
<circle cx="74.9" cy="250.6" r="4.55" fill="#4783b4"/>
<circle cx="77.1" cy="251.2" r="4.55" fill="#4682b4"/>
<circle cx="79.3" cy="251.1" r="4.55" fill="#4682b4"/>
<circle cx="81.5" cy="251.0" r="4.55" fill="#4682b4"/>
<circle cx="83.7" cy="251.0" r="4.55" fill="#4682b4"/>
<circle cx="85.9" cy="251.0" r="4.55" fill="#4782b4"/>
<circle cx="88.1" cy="250.8" r="4.55" fill="#4782b4"/>
<circle cx="90.3" cy="251.0" r="4.55" fill="#4682b4"/>
<circle cx="92.5" cy="250.6" r="4.55" fill="#4783b4"/>
<circle cx="94.7" cy="251.0" r="4.55" fill="#4682b4"/>
<circle cx="96.8" cy="251.1" r="4.55" fill="#4682b4"/>
<circle cx="99.0" cy="251.0" r="4.55" fill="#4782b4"/>
<circle cx="101.2" cy="251.1" r="4.55" fill="#4682b4"/>
<circle cx="103.4" cy="251.4" r="4.55" fill="#4682b4"/>
<circle cx="105.6" cy="251.3" r="4.55" fill="#4682b4"/>
<circle cx="107.8" cy="250.7" r="4.55" fill="#4783b4"/>
<circle cx="110.0" cy="251.2" r="4.55" fill="#4682b4"/>
<circle cx="112.2" cy="251.1" r="4.55" fill="#4682b4"/>
<circle cx="114.4" cy="250.6" r="4.55" fill="#4783b4"/>
<circle cx="116.6" cy="250.9" r="4.55" fill="#4782b4"/>
<circle cx="118.8" cy="250.8" r="4.55" fill="#4782b4"/>
<circle cx="121.0" cy="250.7" r="4.55" fill="#4783b4"/>
<circle cx="123.2" cy="251.0" r="4.55" fill="#4682b4"/>
<circle cx="125.4" cy="251.3" r="4.55" fill="#4682b4"/>
<circle cx="127.6" cy="250.9" r="4.55" fill="#4782b4"/>
<circle cx="129.8" cy="251.3" r="4.55" fill="#4682b4"/>
<circle cx="132.0" cy="251.2" r="4.55" fill="#4682b4"/>
<circle cx="134.2" cy="250.7" r="4.55" fill="#4783b4"/>
<circle cx="136.4" cy="251.3" r="4.55" fill="#4682b4"/>
<circle cx="138.6" cy="251.1" r="4.55" fill="#4682b4"/>
<circle cx="140.8" cy="251.3" r="4.55" fill="#4682b4"/>
<circle cx="143.0" cy="251.2" r="4.55" fill="#4682b4"/>
<circle cx="145.2" cy="251.2" r="4.55" fill="#4682b4"/>
<circle cx="147.4" cy="250.9" r="4.55" fill="#4782b4"/>
<circle cx="149.5" cy="251.2" r="4.55" fill="#4682b4"/>
<circle cx="151.7" cy="251.3" r="4.55" fill="#4682b4"/>
<circle cx="153.9" cy="251.3" r="4.55" fill="#4682b4"/>
<circle cx="156.1" cy="250.9" r="4.55" fill="#4782b4"/>
<circle cx="158.3" cy="251.2" r="4.55" fill="#4682b4"/>
<circle cx="160.5" cy="251.0" r="4.55" fill="#4682b4"/>
<circle cx="162.7" cy="250.7" r="4.55" fill="#4783b4"/>
<circle cx="164.9" cy="250.6" r="4.55" fill="#4783b4"/>
<circle cx="167.1" cy="250.7" r="4.55" fill="#4783b4"/>
<circle cx="169.3" cy="250.8" r="4.55" fill="#4782b4"/>
<circle cx="171.5" cy="250.7" r="4.55" fill="#4783b4"/>
<circle cx="173.7" cy="251.0" r="4.55" fill="#4682b4"/>
<circle cx="175.9" cy="251.2" r="4.55" fill="#4682b4"/>
<circle cx="178.1" cy="251.0" r="4.55" fill="#4682b4"/>
<circle cx="180.3" cy="250.9" r="4.55" fill="#4782b4"/>
<circle cx="182.5" cy="251.1" r="4.55" fill="#4682b4"/>
<circle cx="184.7" cy="250.8" r="4.55" fill="#4782b4"/>
<circle cx="186.9" cy="251.0" r="4.55" fill="#4782b4"/>
<circle cx="189.1" cy="251.2" r="4.55" fill="#4682b4"/>
<circle cx="191.3" cy="250.9" r="4.55" fill="#4782b4"/>
<circle cx="193.5" cy="250.7" r="4.55" fill="#4783b4"/>
<circle cx="195.7" cy="251.3" r="4.55" fill="#4682b4"/>
<circle cx="197.9" cy="251.2" r="4.55" fill="#4682b4"/>
<circle cx="200.1" cy="250.9" r="4.55" fill="#4782b4"/>
<circle cx="202.2" cy="250.9" r="4.55" fill="#4782b4"/>
<circle cx="204.4" cy="251.0" r="4.55" fill="#4682b4"/>
<circle cx="206.6" cy="251.1" r="4.55" fill="#4682b4"/>
<circle cx="208.8" cy="250.8" r="4.55" fill="#4782b4"/>
<circle cx="211.0" cy="250.6" r="4.55" fill="#4783b4"/>
<circle cx="213.2" cy="250.8" r="4.55" fill="#4782b4"/>
<circle cx="215.4" cy="251.2" r="4.55" fill="#4682b4"/>
<circle cx="217.6" cy="250.7" r="4.55" fill="#4783b4"/>
<circle cx="219.8" cy="251.0" r="4.55" fill="#4782b4"/>
<circle cx="222.0" cy="250.8" r="4.55" fill="#4782b4"/>
<circle cx="224.2" cy="250.8" r="4.55" fill="#4782b4"/>
<circle cx="226.4" cy="250.7" r="4.55" fill="#4783b4"/>
<circle cx="228.6" cy="250.9" r="4.55" fill="#4782b4"/>
<circle cx="230.8" cy="250.7" r="4.55" fill="#4783b4"/>
<circle cx="233.0" cy="250.6" r="4.55" fill="#4783b4"/>
<circle cx="235.2" cy="250.7" r="4.55" fill="#4783b4"/>
<circle cx="237.4" cy="250.7" r="4.55" fill="#4783b4"/>
<circle cx="239.6" cy="251.0" r="4.55" fill="#4682b4"/>
<circle cx="241.8" cy="250.6" r="4.55" fill="#4783b4"/>
<circle cx="244.0" cy="250.6" r="4.55" fill="#4783b4"/>
<circle cx="246.2" cy="251.0" r="4.55" fill="#4782b4"/>
<circle cx="248.4" cy="250.9" r="4.55" fill="#4782b4"/>
<circle cx="250.6" cy="251.2" r="4.55" fill="#4682b4"/>
<circle cx="252.8" cy="250.6" r="4.55" fill="#4783b4"/>
<circle cx="254.9" cy="250.9" r="4.55" fill="#4782b4"/>
<circle cx="257.1" cy="250.9" r="4.55" fill="#4782b4"/>
<circle cx="259.3" cy="250.6" r="4.55" fill="#4783b4"/>
<circle cx="261.5" cy="251.4" r="4.55" fill="#4682b4"/>
<circle cx="263.7" cy="250.8" r="4.55" fill="#4782b4"/>
<circle cx="265.9" cy="250.7" r="4.55" fill="#4783b4"/>
<circle cx="268.1" cy="251.0" r="4.55" fill="#4782b4"/>
<circle cx="270.3" cy="250.7" r="4.55" fill="#4783b4"/>
<circle cx="272.5" cy="251.1" r="4.55" fill="#4682b4"/>
<circle cx="274.7" cy="250.9" r="4.55" fill="#4782b4"/>
<circle cx="276.9" cy="250.7" r="4.55" fill="#4783b4"/>
<circle cx="279.1" cy="250.6" r="4.55" fill="#4783b4"/>
<circle cx="281.3" cy="251.2" r="4.55" fill="#4682b4"/>
<circle cx="283.5" cy="250.8" r="4.55" fill="#4782b4"/>
<circle cx="285.7" cy="251.2" r="4.55" fill="#4682b4"/>
<circle cx="287.9" cy="251.0" r="4.55" fill="#4782b4"/>
<circle cx="290.1" cy="251.3" r="4.55" fill="#4682b4"/>
<circle cx="292.3" cy="250.8" r="4.55" fill="#4782b4"/>
<circle cx="294.5" cy="250.8" r="4.55" fill="#4782b4"/>
<circle cx="296.7" cy="250.8" r="4.55" fill="#4782b4"/>
<circle cx="298.9" cy="251.3" r="4.55" fill="#4682b4"/>
<circle cx="301.1" cy="251.1" r="4.55" fill="#4682b4"/>
<circle cx="303.3" cy="250.9" r="4.55" fill="#4782b4"/>
<circle cx="305.5" cy="250.7" r="4.55" fill="#4783b4"/>
<circle cx="307.7" cy="251.1" r="4.55" fill="#4682b4"/>
<circle cx="309.8" cy="251.4" r="4.55" fill="#4682b4"/>
<circle cx="312.0" cy="251.1" r="4.55" fill="#4682b4"/>
<circle cx="314.2" cy="250.6" r="4.55" fill="#4783b4"/>
<circle cx="316.4" cy="250.6" r="4.55" fill="#4783b4"/>
<circle cx="318.6" cy="250.7" r="4.55" fill="#4783b4"/>
<circle cx="320.8" cy="250.7" r="4.55" fill="#4783b4"/>
<circle cx="323.0" cy="250.6" r="4.55" fill="#4783b4"/>
<circle cx="325.2" cy="250.6" r="4.55" fill="#4783b4"/>
<circle cx="327.4" cy="251.1" r="4.55" fill="#4682b4"/>
<circle cx="329.6" cy="251.3" r="4.55" fill="#4682b4"/>
<circle cx="331.8" cy="250.8" r="4.55" fill="#4782b4"/>
<circle cx="334.0" cy="251.4" r="4.55" fill="#4682b4"/>
<circle cx="336.2" cy="251.0" r="4.55" fill="#4782b4"/>
<circle cx="338.4" cy="251.2" r="4.55" fill="#4682b4"/>
<circle cx="340.6" cy="251.3" r="4.55" fill="#4682b4"/>
<circle cx="342.8" cy="251.4" r="4.55" fill="#4682b4"/>
<circle cx="345.0" cy="250.6" r="4.55" fill="#4783b4"/>
<circle cx="347.2" cy="250.8" r="4.55" fill="#4782b4"/>
<circle cx="349.4" cy="251.1" r="4.55" fill="#4682b4"/>
<circle cx="351.6" cy="251.4" r="4.55" fill="#4682b4"/>
<circle cx="353.8" cy="250.7" r="4.55" fill="#4783b4"/>
<circle cx="356.0" cy="250.8" r="4.55" fill="#4782b4"/>
<circle cx="358.2" cy="251.3" r="4.55" fill="#4682b4"/>
<circle cx="360.4" cy="250.7" r="4.55" fill="#4783b4"/>
<circle cx="362.5" cy="250.9" r="4.55" fill="#4782b4"/>
<circle cx="364.7" cy="250.9" r="4.55" fill="#4782b4"/>
<circle cx="366.9" cy="251.1" r="4.55" fill="#4682b4"/>
<circle cx="369.1" cy="251.3" r="4.55" fill="#4682b4"/>
<circle cx="371.3" cy="250.7" r="4.55" fill="#4783b4"/>
<circle cx="373.5" cy="251.2" r="4.55" fill="#4682b4"/>
<circle cx="375.7" cy="251.2" r="4.55" fill="#4682b4"/>
<circle cx="377.9" cy="251.3" r="4.55" fill="#4682b4"/>
<circle cx="380.1" cy="251.0" r="4.55" fill="#4682b4"/>
<circle cx="382.3" cy="251.3" r="4.55" fill="#4682b4"/>
<circle cx="384.5" cy="250.9" r="4.55" fill="#4782b4"/>
<circle cx="386.7" cy="250.9" r="4.55" fill="#4782b4"/>
<circle cx="388.9" cy="250.8" r="4.55" fill="#4782b4"/>
<circle cx="391.1" cy="251.2" r="4.55" fill="#4682b4"/>
<circle cx="393.3" cy="251.0" r="4.55" fill="#4682b4"/>
<circle cx="395.5" cy="250.8" r="4.55" fill="#4782b4"/>
<circle cx="397.7" cy="250.7" r="4.55" fill="#4783b4"/>
<circle cx="399.9" cy="251.2" r="4.55" fill="#4682b4"/>
<circle cx="402.1" cy="251.1" r="4.55" fill="#4682b4"/>
<circle cx="404.3" cy="251.2" r="4.55" fill="#4682b4"/>
<circle cx="406.5" cy="250.9" r="4.55" fill="#4782b4"/>
<circle cx="408.7" cy="251.0" r="4.55" fill="#4682b4"/>
<circle cx="410.9" cy="250.7" r="4.55" fill="#4783b4"/>
<circle cx="413.1" cy="251.2" r="4.55" fill="#4682b4"/>
<circle cx="415.2" cy="250.6" r="4.55" fill="#4783b4"/>
<circle cx="417.4" cy="251.0" r="4.55" fill="#4782b4"/>
<circle cx="419.6" cy="251.2" r="4.55" fill="#4682b4"/>
<circle cx="421.8" cy="251.1" r="4.55" fill="#4682b4"/>
<circle cx="424.0" cy="250.7" r="4.55" fill="#4783b4"/>
<circle cx="426.2" cy="250.8" r="4.55" fill="#4782b4"/>
<circle cx="428.4" cy="251.3" r="4.55" fill="#4682b4"/>
<circle cx="430.6" cy="251.1" r="4.55" fill="#4682b4"/>
<circle cx="432.8" cy="251.3" r="4.55" fill="#4682b4"/>
<circle cx="435.0" cy="251.3" r="4.55" fill="#4682b4"/>
<circle cx="437.2" cy="251.0" r="4.55" fill="#4782b4"/>
<circle cx="439.4" cy="251.3" r="4.55" fill="#4682b4"/>
<circle cx="441.6" cy="251.2" r="4.55" fill="#4682b4"/>
<circle cx="120.0" cy="146.2" r="4.55" fill="#ffffff"/>
<circle cx="120.0" cy="151.0" r="4.55" fill="#f7f9fc"/>
<circle cx="153.8" cy="153.8" r="4.55" fill="#f2f5fa"/>
<circle cx="283.8" cy="137.5" r="4.55" fill="#fff5f3"/>
<circle cx="277.5" cy="142.5" r="4.55" fill="#fffbfa"/>
<circle cx="283.8" cy="152.5" r="4.55" fill="#f4f7fa"/>
<circle cx="328.8" cy="158.8" r="4.55" fill="#eaeff6"/>
<circle cx="406.5" cy="155.5" r="4.55" fill="#eff3f8"/>
<circle cx="123.8" cy="123.5" r="4.55" fill="#ffe4df"/>
<circle cx="128.5" cy="123.5" r="4.55" fill="#ffe4df"/>
<circle cx="133.2" cy="123.5" r="4.55" fill="#ffe4df"/>
<circle cx="138.0" cy="123.5" r="4.55" fill="#ffe4df"/>
<circle cx="142.8" cy="123.5" r="4.55" fill="#ffe4df"/>
<circle cx="147.5" cy="123.5" r="4.55" fill="#ffe4df"/>
<circle cx="151.0" cy="115.0" r="4.55" fill="#ffdad3"/>
<circle cx="155.2" cy="115.0" r="4.55" fill="#ffdad3"/>
<circle cx="159.5" cy="115.0" r="4.55" fill="#ffdad3"/>
<circle cx="163.8" cy="115.0" r="4.55" fill="#ffdad3"/>
<circle cx="168.0" cy="115.0" r="4.55" fill="#ffdad3"/>
<circle cx="183.0" cy="113.5" r="4.55" fill="#ffd8d1"/>
<circle cx="187.8" cy="113.5" r="4.55" fill="#ffd8d1"/>
<circle cx="192.7" cy="113.5" r="4.55" fill="#ffd8d1"/>
<circle cx="197.5" cy="113.5" r="4.55" fill="#ffd8d1"/>
<circle cx="261.2" cy="117.5" r="4.55" fill="#ffddd7"/>
<circle cx="280.0" cy="120.0" r="4.55" fill="#ffe0da"/>
<circle cx="281.0" cy="110.0" r="4.55" fill="#ffd4cc"/>
<circle cx="181.0" cy="44.4" r="4.55" fill="#fb8476"/>
<circle cx="183.4" cy="44.5" r="4.55" fill="#fb8476"/>
<circle cx="188.6" cy="45.0" r="4.55" fill="#fb8577"/>
<circle cx="191.4" cy="44.5" r="4.55" fill="#fb8476"/>
<circle cx="196.6" cy="44.7" r="4.55" fill="#fb8576"/>
<circle cx="199.4" cy="44.7" r="4.55" fill="#fb8476"/>
<circle cx="202.1" cy="44.9" r="4.55" fill="#fb8577"/>
<circle cx="204.9" cy="44.8" r="4.55" fill="#fb8576"/>
<circle cx="210.1" cy="44.9" r="4.55" fill="#fb8577"/>
<circle cx="212.7" cy="44.7" r="4.55" fill="#fb8476"/>
<circle cx="215.3" cy="44.5" r="4.55" fill="#fb8476"/>
<circle cx="217.9" cy="44.5" r="4.55" fill="#fb8476"/>
<circle cx="220.6" cy="44.4" r="4.55" fill="#fb8476"/>
<circle cx="223.2" cy="44.9" r="4.55" fill="#fb8577"/>
<circle cx="225.8" cy="44.5" r="4.55" fill="#fb8476"/>
<circle cx="228.4" cy="44.4" r="4.55" fill="#fb8476"/>
<circle cx="233.6" cy="45.0" r="4.55" fill="#fb8577"/>
<circle cx="236.4" cy="44.5" r="4.55" fill="#fb8476"/>
<circle cx="239.2" cy="44.9" r="4.55" fill="#fb8577"/>
<circle cx="242.0" cy="44.5" r="4.55" fill="#fb8476"/>
<circle cx="244.8" cy="44.7" r="4.55" fill="#fb8476"/>
<circle cx="247.6" cy="44.5" r="4.55" fill="#fb8476"/>
<circle cx="250.4" cy="44.9" r="4.55" fill="#fb8577"/>
<circle cx="253.1" cy="44.8" r="4.55" fill="#fb8576"/>
<circle cx="255.9" cy="44.8" r="4.55" fill="#fb8577"/>
<circle cx="258.7" cy="44.9" r="4.55" fill="#fb8577"/>
<circle cx="261.5" cy="44.9" r="4.55" fill="#fb8577"/>
<circle cx="264.3" cy="44.6" r="4.55" fill="#fb8476"/>
<circle cx="267.1" cy="44.8" r="4.55" fill="#fb8576"/>
<circle cx="269.9" cy="44.7" r="4.55" fill="#fb8476"/>
<circle cx="275.1" cy="44.5" r="4.55" fill="#fb8476"/>
<circle cx="278.2" cy="44.9" r="4.55" fill="#fb8577"/>
<circle cx="281.4" cy="44.8" r="4.55" fill="#fb8576"/>
<circle cx="286.6" cy="44.9" r="4.55" fill="#fb8577"/>
<circle cx="289.0" cy="44.5" r="4.55" fill="#fb8476"/>
<circle cx="291.4" cy="44.7" r="4.55" fill="#fb8476"/>
<circle cx="305.5" cy="44.7" r="4.55" fill="#fb8476"/>
<circle cx="308.6" cy="44.8" r="4.55" fill="#fb8577"/>
<circle cx="311.8" cy="44.4" r="4.55" fill="#fb8476"/>
<circle cx="314.9" cy="44.6" r="4.55" fill="#fb8476"/>
<circle cx="318.0" cy="44.7" r="4.55" fill="#fb8476"/>
<circle cx="321.1" cy="44.4" r="4.55" fill="#fb8476"/>
<circle cx="324.3" cy="44.7" r="4.55" fill="#fb8576"/>
<circle cx="327.4" cy="44.8" r="4.55" fill="#fb8577"/>
<circle cx="168.0" cy="43.7" r="4.55" fill="#fb8375"/>
<circle cx="162.6" cy="52.4" r="4.55" fill="#fd8e80"/>
<circle cx="139.0" cy="56.8" r="4.55" fill="#fe9486"/>
<circle cx="143.2" cy="56.8" r="4.55" fill="#fe9486"/>
<circle cx="147.4" cy="56.8" r="4.55" fill="#fe9486"/>
<circle cx="151.6" cy="56.8" r="4.55" fill="#fe9486"/>
<circle cx="125.0" cy="60.1" r="4.55" fill="#ff988a"/>
<circle cx="193.2" cy="75.6" r="4.55" fill="#ffab9e"/>
<circle cx="215.9" cy="79.5" r="4.55" fill="#ffafa3"/>
<circle cx="204.8" cy="60.7" r="4.55" fill="#ff988b"/>
<circle cx="298.0" cy="59.9" r="4.55" fill="#ff978a"/>
<circle cx="215.8" cy="60.9" r="4.55" fill="#ff998b"/>
<circle cx="152.0" cy="72.0" r="4.55" fill="#ffa699"/>
<circle cx="239.9" cy="62.7" r="4.55" fill="#ff9b8d"/>
<circle cx="134.1" cy="69.7" r="4.55" fill="#ffa396"/>
<circle cx="133.4" cy="76.2" r="4.55" fill="#ffab9f"/>
<circle cx="252.5" cy="56.4" r="4.55" fill="#fe9385"/>
<circle cx="309.5" cy="64.1" r="4.55" fill="#ff9d8f"/>
<circle cx="244.6" cy="61.2" r="4.55" fill="#ff998b"/>
<circle cx="146.6" cy="65.6" r="4.55" fill="#ff9e91"/>
<circle cx="219.9" cy="56.5" r="4.55" fill="#fe9385"/>
<circle cx="153.1" cy="68.5" r="4.55" fill="#ffa295"/>
<circle cx="121.4" cy="76.1" r="4.55" fill="#ffab9f"/>
<circle cx="202.5" cy="63.1" r="4.55" fill="#ff9b8e"/>
<circle cx="218.0" cy="61.4" r="4.55" fill="#ff998c"/>
<circle cx="214.2" cy="61.6" r="4.55" fill="#ff9a8c"/>
<circle cx="205.8" cy="58.3" r="4.55" fill="#fe9688"/>
<circle cx="312.5" cy="64.4" r="4.55" fill="#ff9d90"/>
<circle cx="281.4" cy="61.9" r="4.55" fill="#ff9a8c"/>
<circle cx="177.8" cy="57.9" r="4.55" fill="#fe9587"/>
<circle cx="172.6" cy="56.8" r="4.55" fill="#fe9486"/>
<circle cx="266.8" cy="59.4" r="4.55" fill="#ff9789"/>
<circle cx="282.7" cy="59.2" r="4.55" fill="#fe9789"/>
<circle cx="304.7" cy="63.1" r="4.55" fill="#ff9b8e"/>
<circle cx="115.6" cy="76.3" r="4.55" fill="#ffac9f"/>
<circle cx="295.3" cy="59.9" r="4.55" fill="#ff988a"/>
<circle cx="309.1" cy="59.3" r="4.55" fill="#ff9789"/>
<circle cx="129.9" cy="76.6" r="4.55" fill="#ffac9f"/>
<circle cx="269.3" cy="58.3" r="4.55" fill="#fe9588"/>
<circle cx="132.7" cy="70.5" r="4.55" fill="#ffa497"/>
<circle cx="305.9" cy="62.4" r="4.55" fill="#ff9b8d"/>
<circle cx="138.8" cy="68.6" r="4.55" fill="#ffa295"/>
<circle cx="135.5" cy="66.2" r="4.55" fill="#ff9f92"/>
<circle cx="272.9" cy="57.5" r="4.55" fill="#fe9487"/>
<circle cx="226.0" cy="59.8" r="4.55" fill="#ff978a"/>
<circle cx="153.2" cy="74.9" r="4.55" fill="#ffaa9d"/>
<circle cx="141.4" cy="73.8" r="4.55" fill="#ffa89c"/>
<circle cx="138.5" cy="70.9" r="4.55" fill="#ffa598"/>
<circle cx="157.5" cy="66.5" r="4.55" fill="#ffa092"/>
<circle cx="307.3" cy="62.7" r="4.55" fill="#ff9b8d"/>
<circle cx="175.6" cy="63.4" r="4.55" fill="#ff9c8e"/>
<circle cx="157.1" cy="68.8" r="4.55" fill="#ffa295"/>
<circle cx="284.2" cy="61.4" r="4.55" fill="#ff998c"/>
<circle cx="135.3" cy="78.4" r="4.55" fill="#ffaea2"/>
<circle cx="157.6" cy="66.2" r="4.55" fill="#ff9f92"/>
<circle cx="268.1" cy="58.8" r="4.55" fill="#fe9688"/>
<circle cx="174.0" cy="56.6" r="4.55" fill="#fe9386"/>
<circle cx="133.3" cy="73.4" r="4.55" fill="#ffa89b"/>
<circle cx="163.5" cy="70.2" r="4.55" fill="#ffa497"/>
<circle cx="188.9" cy="59.8" r="4.55" fill="#ff978a"/>
<circle cx="304.9" cy="60.1" r="4.55" fill="#ff988a"/>
<circle cx="229.0" cy="63.3" r="4.55" fill="#ff9c8e"/>
<circle cx="151.6" cy="67.4" r="4.55" fill="#ffa193"/>
<circle cx="294.9" cy="62.9" r="4.55" fill="#ff9b8e"/>
<circle cx="164.8" cy="61.5" r="4.55" fill="#ff998c"/>
<circle cx="261.5" cy="63.9" r="4.55" fill="#ff9c8f"/>
<circle cx="154.3" cy="77.7" r="4.55" fill="#ffada1"/>
<circle cx="289.7" cy="61.1" r="4.55" fill="#ff998b"/>
<circle cx="198.7" cy="56.9" r="4.55" fill="#fe9486"/>
<circle cx="123.1" cy="82.7" r="4.55" fill="#ffb3a8"/>
<circle cx="162.6" cy="72.5" r="4.55" fill="#ffa79a"/>
<circle cx="166.3" cy="74.1" r="4.55" fill="#ffa99c"/>
<circle cx="233.3" cy="58.5" r="4.55" fill="#fe9688"/>
<circle cx="150.1" cy="74.8" r="4.55" fill="#ffaa9d"/>
<circle cx="129.1" cy="71.6" r="4.55" fill="#ffa699"/>
<circle cx="226.0" cy="63.2" r="4.55" fill="#ff9b8e"/>
<circle cx="236.8" cy="58.4" r="4.55" fill="#fe9688"/>
<circle cx="296.7" cy="57.7" r="4.55" fill="#fe9587"/>
<circle cx="118.8" cy="75.0" r="4.55" fill="#ffaa9d"/>
<circle cx="203.5" cy="56.5" r="4.55" fill="#fe9385"/>
<circle cx="150.3" cy="70.2" r="4.55" fill="#ffa497"/>
<circle cx="228.5" cy="57.1" r="4.55" fill="#fe9486"/>
<circle cx="187.0" cy="63.5" r="4.55" fill="#ff9c8e"/>
<circle cx="309.1" cy="61.5" r="4.55" fill="#ff998c"/>
<circle cx="252.0" cy="60.9" r="4.55" fill="#ff998b"/>
<circle cx="143.2" cy="65.9" r="4.55" fill="#ff9f91"/>
<circle cx="119.0" cy="82.2" r="4.55" fill="#ffb3a7"/>
<circle cx="253.9" cy="64.1" r="4.55" fill="#ff9d8f"/>
<circle cx="119.7" cy="78.9" r="4.55" fill="#ffafa2"/>
<circle cx="210.7" cy="62.1" r="4.55" fill="#ff9a8d"/>
<circle cx="178.5" cy="64.4" r="4.55" fill="#ff9d90"/>
<circle cx="130.4" cy="75.0" r="4.55" fill="#ffaa9d"/>
<circle cx="261.1" cy="63.6" r="4.55" fill="#ff9c8e"/>
<circle cx="261.1" cy="61.9" r="4.55" fill="#ff9a8c"/>
<circle cx="272.2" cy="63.7" r="4.55" fill="#ff9c8f"/>
<circle cx="185.0" cy="61.8" r="4.55" fill="#ff9a8c"/>
<circle cx="293.4" cy="63.3" r="4.55" fill="#ff9c8e"/>
<circle cx="197.9" cy="62.6" r="4.55" fill="#ff9b8d"/>
<circle cx="286.0" cy="60.8" r="4.55" fill="#ff998b"/>
<circle cx="238.9" cy="59.2" r="4.55" fill="#fe9789"/>
<circle cx="230.6" cy="61.1" r="4.55" fill="#ff998b"/>
<circle cx="131.3" cy="75.1" r="4.55" fill="#ffaa9e"/>
<circle cx="311.7" cy="63.4" r="4.55" fill="#ff9c8e"/>
<circle cx="259.3" cy="59.3" r="4.55" fill="#fe9789"/>
<circle cx="260.7" cy="60.9" r="4.55" fill="#ff998b"/>
<circle cx="202.5" cy="63.0" r="4.55" fill="#ff9b8e"/>
<circle cx="132.0" cy="75.6" r="4.55" fill="#ffab9e"/>
<circle cx="121.4" cy="77.9" r="4.55" fill="#ffada1"/>
<circle cx="210.5" cy="57.9" r="4.55" fill="#fe9587"/>
<circle cx="253.4" cy="60.2" r="4.55" fill="#ff988a"/>
<circle cx="236.9" cy="63.7" r="4.55" fill="#ff9c8f"/>
<circle cx="166.0" cy="57.2" r="4.55" fill="#fe9486"/>
<circle cx="175.0" cy="61.7" r="4.55" fill="#ff9a8c"/>
<circle cx="155.5" cy="67.0" r="4.55" fill="#ffa093"/>
<circle cx="294.4" cy="61.5" r="4.55" fill="#ff998c"/>
<circle cx="202.8" cy="63.5" r="4.55" fill="#ff9c8e"/>
<circle cx="180.1" cy="61.6" r="4.55" fill="#ff9a8c"/>
<circle cx="154.7" cy="71.0" r="4.55" fill="#ffa598"/>
<circle cx="274.7" cy="63.7" r="4.55" fill="#ff9c8f"/>
<circle cx="289.4" cy="59.2" r="4.55" fill="#fe9789"/>
<circle cx="230.7" cy="58.7" r="4.55" fill="#fe9688"/>
<circle cx="142.4" cy="71.9" r="4.55" fill="#ffa699"/>
<circle cx="280.8" cy="63.1" r="4.55" fill="#ff9b8e"/>
<circle cx="256.0" cy="64.0" r="4.55" fill="#ff9c8f"/>
<circle cx="170.2" cy="58.5" r="4.55" fill="#fe9688"/>
<circle cx="204.5" cy="58.3" r="4.55" fill="#fe9688"/>
<circle cx="157.8" cy="68.6" r="4.55" fill="#ffa295"/>
<circle cx="239.1" cy="60.1" r="4.55" fill="#ff988a"/>
<circle cx="177.8" cy="63.0" r="4.55" fill="#ff9b8e"/>
<circle cx="309.5" cy="59.8" r="4.55" fill="#ff978a"/>
<circle cx="130.2" cy="68.0" r="4.55" fill="#ffa194"/>
<circle cx="287.9" cy="56.3" r="4.55" fill="#fe9385"/>
<circle cx="255.5" cy="60.8" r="4.55" fill="#ff998b"/>
<circle cx="176.5" cy="62.6" r="4.55" fill="#ff9b8d"/>
<circle cx="119.3" cy="73.2" r="4.55" fill="#ffa89b"/>
<circle cx="205.3" cy="56.2" r="4.55" fill="#fe9385"/>
<circle cx="279.4" cy="58.0" r="4.55" fill="#fe9587"/>
<circle cx="143.3" cy="66.0" r="4.55" fill="#ff9f92"/>
<circle cx="239.8" cy="59.8" r="4.55" fill="#ff978a"/>
<circle cx="239.9" cy="61.5" r="4.55" fill="#ff998c"/>
<circle cx="275.0" cy="64.1" r="4.55" fill="#ff9d8f"/>
<circle cx="250.7" cy="57.7" r="4.55" fill="#fe9587"/>
<circle cx="209.3" cy="57.5" r="4.55" fill="#fe9587"/>
<circle cx="117.6" cy="77.8" r="4.55" fill="#ffada1"/>
<circle cx="256.5" cy="57.5" r="4.55" fill="#fe9587"/>
<circle cx="169.3" cy="61.7" r="4.55" fill="#ff9a8c"/>
<circle cx="253.2" cy="60.4" r="4.55" fill="#ff988a"/>
<circle cx="236.9" cy="62.4" r="4.55" fill="#ff9a8d"/>
<circle cx="193.2" cy="62.7" r="4.55" fill="#ff9b8d"/>
<circle cx="294.5" cy="56.7" r="4.55" fill="#fe9486"/>
<circle cx="299.7" cy="62.1" r="4.55" fill="#ff9a8d"/>
<circle cx="141.2" cy="71.3" r="4.55" fill="#ffa599"/>
<circle cx="239.0" cy="63.6" r="4.55" fill="#ff9c8f"/>
<circle cx="189.9" cy="60.8" r="4.55" fill="#ff998b"/>
<circle cx="289.2" cy="62.7" r="4.55" fill="#ff9b8d"/>
<circle cx="302.0" cy="59.9" r="4.55" fill="#ff978a"/>
<circle cx="244.1" cy="57.7" r="4.55" fill="#fe9587"/>
<circle cx="258.1" cy="62.9" r="4.55" fill="#ff9b8e"/>
<circle cx="242.2" cy="62.0" r="4.55" fill="#ff9a8c"/>
<circle cx="157.6" cy="76.7" r="4.55" fill="#ffaca0"/>
<circle cx="309.1" cy="64.2" r="4.55" fill="#ff9d8f"/>
<circle cx="221.5" cy="62.6" r="4.55" fill="#ff9b8d"/>
<circle cx="178.8" cy="63.6" r="4.55" fill="#ff9c8f"/>
<circle cx="284.5" cy="58.9" r="4.55" fill="#fe9688"/>
<circle cx="131.8" cy="72.1" r="4.55" fill="#ffa69a"/>
<circle cx="224.2" cy="62.5" r="4.55" fill="#ff9b8d"/>
<circle cx="211.8" cy="56.2" r="4.55" fill="#fe9385"/>
<circle cx="275.3" cy="56.5" r="4.55" fill="#fe9385"/>
<circle cx="273.5" cy="57.5" r="4.55" fill="#fe9487"/>
<circle cx="181.7" cy="62.6" r="4.55" fill="#ff9b8d"/>
<circle cx="143.2" cy="67.3" r="4.55" fill="#ffa193"/>
<circle cx="217.5" cy="62.1" r="4.55" fill="#ff9a8d"/>
<circle cx="281.4" cy="61.8" r="4.55" fill="#ff9a8c"/>
<circle cx="302.3" cy="60.1" r="4.55" fill="#ff988a"/>
<circle cx="303.0" cy="56.7" r="4.55" fill="#fe9486"/>
<circle cx="159.2" cy="70.0" r="4.55" fill="#ffa497"/>
<circle cx="172.8" cy="63.6" r="4.55" fill="#ff9c8f"/>
<circle cx="241.7" cy="60.4" r="4.55" fill="#ff988a"/>
<circle cx="282.1" cy="60.7" r="4.55" fill="#ff988b"/>
<circle cx="177.1" cy="59.2" r="4.55" fill="#fe9789"/>
<circle cx="282.4" cy="63.6" r="4.55" fill="#ff9c8e"/>
<circle cx="156.6" cy="76.1" r="4.55" fill="#ffab9f"/>
<circle cx="306.8" cy="60.4" r="4.55" fill="#ff988a"/>
<circle cx="228.7" cy="57.7" r="4.55" fill="#fe9587"/>
<circle cx="221.3" cy="60.2" r="4.55" fill="#ff988a"/>
<circle cx="235.0" cy="56.2" r="4.55" fill="#fe9385"/>
<circle cx="307.0" cy="60.3" r="4.55" fill="#ff988a"/>
<circle cx="194.6" cy="62.7" r="4.55" fill="#ff9b8d"/>
<circle cx="226.7" cy="60.1" r="4.55" fill="#ff988a"/>
<circle cx="252.0" cy="56.6" r="4.55" fill="#fe9385"/>
<circle cx="221.9" cy="59.5" r="4.55" fill="#ff9789"/>
<circle cx="304.5" cy="63.8" r="4.55" fill="#ff9c8f"/>
<circle cx="168.7" cy="64.3" r="4.55" fill="#ff9d8f"/>
<circle cx="140.6" cy="71.1" r="4.55" fill="#ffa598"/>
<circle cx="276.6" cy="63.6" r="4.55" fill="#ff9c8e"/>
<circle cx="209.6" cy="58.7" r="4.55" fill="#fe9688"/>
<circle cx="153.3" cy="73.4" r="4.55" fill="#ffa89b"/>
<circle cx="298.2" cy="57.1" r="4.55" fill="#fe9486"/>
<circle cx="269.4" cy="56.2" r="4.55" fill="#fe9385"/>
<circle cx="153.8" cy="68.3" r="4.55" fill="#ffa295"/>
<circle cx="251.2" cy="58.7" r="4.55" fill="#fe9688"/>
<circle cx="185.7" cy="61.2" r="4.55" fill="#ff998b"/>
<circle cx="136.2" cy="75.0" r="4.55" fill="#ffaa9d"/>
<circle cx="139.7" cy="72.1" r="4.55" fill="#ffa69a"/>
<circle cx="165.0" cy="61.5" r="4.55" fill="#ff998c"/>
<circle cx="220.2" cy="59.7" r="4.55" fill="#ff9789"/>
<circle cx="189.7" cy="59.5" r="4.55" fill="#ff9789"/>
<circle cx="220.0" cy="57.3" r="4.55" fill="#fe9486"/>
<circle cx="155.8" cy="73.2" r="4.55" fill="#ffa89b"/>
<circle cx="241.6" cy="60.4" r="4.55" fill="#ff988a"/>
<circle cx="283.6" cy="61.1" r="4.55" fill="#ff998b"/>
<circle cx="284.7" cy="58.0" r="4.55" fill="#fe9587"/>
<circle cx="261.8" cy="62.8" r="4.55" fill="#ff9b8d"/>
<circle cx="293.8" cy="58.7" r="4.55" fill="#fe9688"/>
<circle cx="177.7" cy="63.8" r="4.55" fill="#ff9c8f"/>
<circle cx="158.6" cy="78.3" r="4.55" fill="#ffaea2"/>
<circle cx="290.8" cy="57.1" r="4.55" fill="#fe9486"/>
<circle cx="162.8" cy="72.9" r="4.55" fill="#ffa79b"/>
<circle cx="166.8" cy="58.6" r="4.55" fill="#fe9688"/>
<circle cx="279.9" cy="59.5" r="4.55" fill="#ff9789"/>
<circle cx="271.5" cy="57.1" r="4.55" fill="#fe9486"/>
<circle cx="195.0" cy="61.8" r="4.55" fill="#ff9a8c"/>
<circle cx="119.0" cy="74.1" r="4.55" fill="#ffa99c"/>
<circle cx="250.3" cy="63.7" r="4.55" fill="#ff9c8f"/>
<circle cx="306.8" cy="57.0" r="4.55" fill="#fe9486"/>
<circle cx="215.4" cy="62.4" r="4.55" fill="#ff9b8d"/>
<circle cx="214.8" cy="61.8" r="4.55" fill="#ff9a8c"/>
<circle cx="152.8" cy="66.3" r="4.55" fill="#ff9f92"/>
<circle cx="136.5" cy="65.9" r="4.55" fill="#ff9f91"/>
<circle cx="224.5" cy="60.3" r="4.55" fill="#ff988a"/>
<circle cx="227.8" cy="57.2" r="4.55" fill="#fe9486"/>
<circle cx="151.9" cy="68.0" r="4.55" fill="#ffa194"/>
<circle cx="281.4" cy="64.3" r="4.55" fill="#ff9d8f"/>
<circle cx="298.6" cy="56.8" r="4.55" fill="#fe9486"/>
<circle cx="127.7" cy="82.5" r="4.55" fill="#ffb3a7"/>
<circle cx="206.8" cy="62.4" r="4.55" fill="#ff9b8d"/>
<circle cx="180.0" cy="59.9" r="4.55" fill="#ff988a"/>
<circle cx="217.3" cy="59.6" r="4.55" fill="#ff9789"/>
<circle cx="234.2" cy="56.1" r="4.55" fill="#fe9385"/>
<circle cx="254.0" cy="63.1" r="4.55" fill="#ff9b8e"/>
<circle cx="151.3" cy="71.3" r="4.55" fill="#ffa599"/>
<circle cx="261.5" cy="59.4" r="4.55" fill="#ff9789"/>
<circle cx="154.0" cy="67.5" r="4.55" fill="#ffa194"/>
<circle cx="216.7" cy="56.1" r="4.55" fill="#fe9385"/>
<circle cx="291.9" cy="62.7" r="4.55" fill="#ff9b8d"/>
<circle cx="254.7" cy="63.2" r="4.55" fill="#ff9c8e"/>
<circle cx="239.8" cy="59.4" r="4.55" fill="#ff9789"/>
<circle cx="233.9" cy="60.2" r="4.55" fill="#ff988a"/>
<circle cx="309.6" cy="62.8" r="4.55" fill="#ff9b8d"/>
<circle cx="166.5" cy="75.5" r="4.55" fill="#ffab9e"/>
<circle cx="262.5" cy="62.5" r="4.55" fill="#ff9b8d"/>
<circle cx="276.4" cy="59.4" r="4.55" fill="#ff9789"/>
<circle cx="292.6" cy="63.4" r="4.55" fill="#ff9c8e"/>
<circle cx="252.7" cy="62.4" r="4.55" fill="#ff9b8d"/>
<circle cx="266.6" cy="59.4" r="4.55" fill="#ff9789"/>
<circle cx="258.2" cy="56.6" r="4.55" fill="#fe9385"/>
<circle cx="183.0" cy="59.9" r="4.55" fill="#ff988a"/>
<circle cx="117.6" cy="76.6" r="4.55" fill="#ffac9f"/>
<circle cx="241.6" cy="61.2" r="4.55" fill="#ff998b"/>
<circle cx="161.3" cy="77.2" r="4.55" fill="#ffada0"/>
<circle cx="247.1" cy="58.8" r="4.55" fill="#fe9688"/>
<circle cx="245.8" cy="60.8" r="4.55" fill="#ff998b"/>
<circle cx="220.8" cy="59.3" r="4.55" fill="#fe9789"/>
<circle cx="313.0" cy="61.4" r="4.55" fill="#ff998c"/>
<circle cx="254.0" cy="62.4" r="4.55" fill="#ff9b8d"/>
<circle cx="309.1" cy="56.2" r="4.55" fill="#fe9385"/>
<circle cx="237.0" cy="62.2" r="4.55" fill="#ff9a8d"/>
<circle cx="166.2" cy="65.3" r="4.55" fill="#ff9e91"/>
<circle cx="125.5" cy="71.7" r="4.55" fill="#ffa699"/>
<circle cx="189.7" cy="56.8" r="4.55" fill="#fe9486"/>
<circle cx="165.1" cy="76.2" r="4.55" fill="#ffab9f"/>
<circle cx="224.1" cy="60.3" r="4.55" fill="#ff988a"/>
<circle cx="306.5" cy="60.8" r="4.55" fill="#ff998b"/>
<circle cx="312.0" cy="61.4" r="4.55" fill="#ff998c"/>
<circle cx="275.4" cy="56.6" r="4.55" fill="#fe9386"/>
<circle cx="233.5" cy="62.4" r="4.55" fill="#ff9b8d"/>
<circle cx="124.4" cy="82.2" r="4.55" fill="#ffb3a7"/>
<circle cx="147.1" cy="71.5" r="4.55" fill="#ffa699"/>
<circle cx="148.9" cy="71.8" r="4.55" fill="#ffa699"/>
<circle cx="236.2" cy="56.5" r="4.55" fill="#fe9385"/>
<circle cx="302.2" cy="59.5" r="4.55" fill="#ff9789"/>
<circle cx="219.5" cy="61.0" r="4.55" fill="#ff998b"/>
<circle cx="187.7" cy="58.4" r="4.55" fill="#fe9688"/>
<circle cx="244.9" cy="60.7" r="4.55" fill="#ff988b"/>
<circle cx="171.5" cy="65.1" r="4.55" fill="#ff9e90"/>
<circle cx="174.0" cy="56.1" r="4.55" fill="#fe9385"/>
<circle cx="163.9" cy="58.8" r="4.55" fill="#fe9688"/>
<circle cx="146.4" cy="75.2" r="4.55" fill="#ffaa9e"/>
<circle cx="192.5" cy="63.5" r="4.55" fill="#ff9c8e"/>
<circle cx="263.3" cy="56.4" r="4.55" fill="#fe9385"/>
<circle cx="310.8" cy="63.9" r="4.55" fill="#ff9c8f"/>
<circle cx="130.0" cy="80.3" r="4.55" fill="#ffb0a4"/>
<circle cx="200.3" cy="60.0" r="4.55" fill="#ff988a"/>
<circle cx="307.7" cy="58.0" r="4.55" fill="#fe9587"/>
<circle cx="218.9" cy="63.9" r="4.55" fill="#ff9c8f"/>
<circle cx="258.2" cy="59.9" r="4.55" fill="#ff988a"/>
<circle cx="308.8" cy="62.9" r="4.55" fill="#ff9b8e"/>
<circle cx="234.7" cy="57.0" r="4.55" fill="#fe9486"/>
<circle cx="238.8" cy="59.8" r="4.55" fill="#ff978a"/>
<circle cx="155.7" cy="65.2" r="4.55" fill="#ff9e91"/>
<circle cx="219.8" cy="57.0" r="4.55" fill="#fe9486"/>
<circle cx="203.0" cy="61.6" r="4.55" fill="#ff9a8c"/>
<circle cx="205.5" cy="58.2" r="4.55" fill="#fe9588"/>
<circle cx="230.5" cy="59.5" r="4.55" fill="#ff9789"/>
<circle cx="269.1" cy="60.5" r="4.55" fill="#ff988a"/>
<circle cx="312.5" cy="64.0" r="4.55" fill="#ff9d8f"/>
<circle cx="260.5" cy="58.0" r="4.55" fill="#fe9587"/>
<circle cx="138.0" cy="77.1" r="4.55" fill="#ffaca0"/>
<circle cx="270.4" cy="61.2" r="4.55" fill="#ff998b"/>
<circle cx="186.4" cy="58.3" r="4.55" fill="#fe9588"/>
<circle cx="250.8" cy="60.7" r="4.55" fill="#ff998b"/>
<circle cx="232.4" cy="61.3" r="4.55" fill="#ff998c"/>
<circle cx="264.3" cy="57.6" r="4.55" fill="#fe9587"/>
<circle cx="164.7" cy="77.8" r="4.55" fill="#ffada1"/>
<circle cx="296.4" cy="63.4" r="4.55" fill="#ff9c8e"/>
<circle cx="123.3" cy="70.3" r="4.55" fill="#ffa497"/>
<circle cx="169.0" cy="63.2" r="4.55" fill="#ff9c8e"/>
<circle cx="238.6" cy="56.9" r="4.55" fill="#fe9486"/>
<circle cx="222.5" cy="56.6" r="4.55" fill="#fe9386"/>
<circle cx="132.6" cy="74.7" r="4.55" fill="#ffaa9d"/>
<circle cx="224.2" cy="61.3" r="4.55" fill="#ff998c"/>
<circle cx="189.2" cy="60.0" r="4.55" fill="#ff988a"/>
<circle cx="157.1" cy="68.0" r="4.55" fill="#ffa194"/>
<circle cx="262.6" cy="63.0" r="4.55" fill="#ff9b8e"/>
<circle cx="130.2" cy="69.3" r="4.55" fill="#ffa396"/>
<circle cx="275.3" cy="61.2" r="4.55" fill="#ff998b"/>
<circle cx="267.3" cy="57.8" r="4.55" fill="#fe9587"/>
<circle cx="199.3" cy="58.2" r="4.55" fill="#fe9588"/>
<circle cx="275.5" cy="59.1" r="4.55" fill="#fe9689"/>
<circle cx="244.6" cy="64.3" r="4.55" fill="#ff9d8f"/>
<circle cx="179.8" cy="60.6" r="4.55" fill="#ff988b"/>
<circle cx="262.9" cy="63.7" r="4.55" fill="#ff9c8f"/>
<circle cx="200.0" cy="59.1" r="4.55" fill="#fe9689"/>
<circle cx="134.7" cy="76.9" r="4.55" fill="#ffaca0"/>
<circle cx="131.0" cy="68.3" r="4.55" fill="#ffa295"/>
<circle cx="226.9" cy="60.1" r="4.55" fill="#ff988a"/>
<circle cx="250.9" cy="58.5" r="4.55" fill="#fe9688"/>
<circle cx="268.7" cy="56.6" r="4.55" fill="#fe9386"/>
<circle cx="157.6" cy="72.8" r="4.55" fill="#ffa79a"/>
<circle cx="131.6" cy="70.7" r="4.55" fill="#ffa598"/>
<circle cx="258.7" cy="61.8" r="4.55" fill="#ff9a8c"/>
<circle cx="171.4" cy="57.8" r="4.55" fill="#fe9587"/>
<circle cx="186.2" cy="62.1" r="4.55" fill="#ff9a8d"/>
<circle cx="187.9" cy="57.0" r="4.55" fill="#fe9486"/>
<circle cx="255.6" cy="60.8" r="4.55" fill="#ff998b"/>
<circle cx="296.9" cy="63.9" r="4.55" fill="#ff9c8f"/>
<circle cx="295.9" cy="59.7" r="4.55" fill="#ff9789"/>
<circle cx="274.1" cy="58.6" r="4.55" fill="#fe9688"/>
<circle cx="178.2" cy="59.4" r="4.55" fill="#ff9789"/>
<circle cx="300.1" cy="63.5" r="4.55" fill="#ff9c8e"/>
<circle cx="164.5" cy="65.1" r="4.55" fill="#ff9e90"/>
<circle cx="187.7" cy="59.1" r="4.55" fill="#fe9689"/>
<circle cx="193.6" cy="59.3" r="4.55" fill="#fe9789"/>
<circle cx="154.0" cy="72.7" r="4.55" fill="#ffa79a"/>
<circle cx="272.9" cy="60.5" r="4.55" fill="#ff988b"/>
<circle cx="280.7" cy="60.7" r="4.55" fill="#ff988b"/>
<circle cx="150.4" cy="75.3" r="4.55" fill="#ffaa9e"/>
<circle cx="289.5" cy="58.4" r="4.55" fill="#fe9688"/>
<circle cx="119.9" cy="77.4" r="4.55" fill="#ffada0"/>
<circle cx="223.0" cy="60.8" r="4.55" fill="#ff998b"/>
<circle cx="306.4" cy="61.5" r="4.55" fill="#ff998c"/>
<circle cx="274.4" cy="56.5" r="4.55" fill="#fe9385"/>
<circle cx="223.5" cy="62.6" r="4.55" fill="#ff9b8d"/>
<circle cx="132.1" cy="67.7" r="4.55" fill="#ffa194"/>
<circle cx="261.1" cy="63.6" r="4.55" fill="#ff9c8e"/>
<circle cx="132.2" cy="74.2" r="4.55" fill="#ffa99c"/>
<circle cx="143.9" cy="75.1" r="4.55" fill="#ffaa9e"/>
<circle cx="243.7" cy="58.1" r="4.55" fill="#fe9587"/>
<circle cx="159.0" cy="74.2" r="4.55" fill="#ffa99c"/>
<circle cx="218.5" cy="62.4" r="4.55" fill="#ff9b8d"/>
<circle cx="193.4" cy="58.8" r="4.55" fill="#fe9688"/>
<circle cx="306.7" cy="61.6" r="4.55" fill="#ff9a8c"/>
<circle cx="213.0" cy="60.5" r="4.55" fill="#ff988b"/>
<circle cx="257.9" cy="61.9" r="4.55" fill="#ff9a8c"/>
<circle cx="296.2" cy="59.4" r="4.55" fill="#ff9789"/>
<circle cx="278.7" cy="61.6" r="4.55" fill="#ff9a8c"/>
<circle cx="284.1" cy="62.8" r="4.55" fill="#ff9b8d"/>
<circle cx="280.2" cy="63.5" r="4.55" fill="#ff9c8e"/>
<circle cx="304.7" cy="61.4" r="4.55" fill="#ff998c"/>
<circle cx="219.0" cy="62.0" r="4.55" fill="#ff9a8c"/>
<circle cx="273.9" cy="59.5" r="4.55" fill="#ff9789"/>
<circle cx="198.5" cy="57.2" r="4.55" fill="#fe9486"/>
<circle cx="261.9" cy="64.3" r="4.55" fill="#ff9d8f"/>
<circle cx="189.7" cy="57.4" r="4.55" fill="#fe9487"/>
<circle cx="155.9" cy="70.2" r="4.55" fill="#ffa497"/>
<circle cx="173.2" cy="65.5" r="4.55" fill="#ff9e91"/>
<circle cx="127.2" cy="73.1" r="4.55" fill="#ffa89b"/>
<circle cx="138.2" cy="73.9" r="4.55" fill="#ffa99c"/>
<circle cx="268.7" cy="57.5" r="4.55" fill="#fe9587"/>
<circle cx="127.8" cy="75.2" r="4.55" fill="#ffaa9e"/>
<circle cx="230.9" cy="63.6" r="4.55" fill="#ff9c8f"/>
<circle cx="122.7" cy="71.0" r="4.55" fill="#ffa598"/>
<circle cx="151.9" cy="68.2" r="4.55" fill="#ffa295"/>
<circle cx="162.0" cy="72.8" r="4.55" fill="#ffa79b"/>
<circle cx="233.0" cy="57.9" r="4.55" fill="#fe9587"/>
<circle cx="152.0" cy="69.0" r="4.55" fill="#ffa396"/>
<circle cx="149.6" cy="75.2" r="4.55" fill="#ffaa9e"/>
<circle cx="177.1" cy="60.6" r="4.55" fill="#ff988b"/>
<circle cx="276.9" cy="60.0" r="4.55" fill="#ff988a"/>
<circle cx="166.9" cy="74.3" r="4.55" fill="#ffa99c"/>
<circle cx="296.1" cy="58.9" r="4.55" fill="#fe9688"/>
<circle cx="223.6" cy="64.0" r="4.55" fill="#ff9d8f"/>
<circle cx="210.8" cy="57.9" r="4.55" fill="#fe9587"/>
<circle cx="125.3" cy="82.5" r="4.55" fill="#ffb3a7"/>
<circle cx="273.8" cy="59.2" r="4.55" fill="#fe9789"/>
<circle cx="219.7" cy="60.3" r="4.55" fill="#ff988a"/>
<circle cx="169.7" cy="71.6" r="4.55" fill="#ffa699"/>
<circle cx="245.4" cy="58.0" r="4.55" fill="#fe9587"/>
<circle cx="117.6" cy="77.8" r="4.55" fill="#ffada1"/>
<circle cx="306.0" cy="52.9" r="4.55" fill="#fd8f81"/>
<circle cx="309.1" cy="53.3" r="4.55" fill="#fd8f81"/>
<circle cx="312.1" cy="53.2" r="4.55" fill="#fd8f81"/>
<circle cx="315.2" cy="53.1" r="4.55" fill="#fd8f81"/>
<circle cx="318.2" cy="52.7" r="4.55" fill="#fd8e80"/>
<circle cx="321.3" cy="52.7" r="4.55" fill="#fd8e80"/>
<circle cx="324.3" cy="52.8" r="4.55" fill="#fd8f81"/>
<circle cx="327.4" cy="52.8" r="4.55" fill="#fd8f81"/>
<circle cx="313.0" cy="65.0" r="4.55" fill="#ff9e90"/>
<circle cx="315.8" cy="64.7" r="4.55" fill="#ff9d90"/>
<circle cx="318.6" cy="64.8" r="4.55" fill="#ff9e90"/>
<circle cx="321.4" cy="65.1" r="4.55" fill="#ff9e90"/>
<circle cx="324.2" cy="64.5" r="4.55" fill="#ff9d90"/>
<circle cx="327.0" cy="64.7" r="4.55" fill="#ff9d90"/>
<circle cx="168.0" cy="55.7" r="4.55" fill="#fe9284"/>
<circle cx="171.0" cy="56.2" r="4.55" fill="#fe9385"/>
<circle cx="174.0" cy="55.6" r="4.55" fill="#fe9284"/>
<circle cx="177.0" cy="56.3" r="4.55" fill="#fe9385"/>
<circle cx="180.0" cy="56.3" r="4.55" fill="#fe9385"/>
<circle cx="183.0" cy="56.3" r="4.55" fill="#fe9385"/>
<circle cx="186.0" cy="55.7" r="4.55" fill="#fe9284"/>
<circle cx="189.0" cy="55.8" r="4.55" fill="#fe9284"/>
<circle cx="192.0" cy="56.2" r="4.55" fill="#fe9385"/>
<circle cx="195.0" cy="55.7" r="4.55" fill="#fe9284"/>
<circle cx="198.0" cy="56.0" r="4.55" fill="#fe9385"/>
<circle cx="201.0" cy="56.0" r="4.55" fill="#fe9385"/>
<circle cx="204.0" cy="56.4" r="4.55" fill="#fe9385"/>
<circle cx="207.0" cy="56.1" r="4.55" fill="#fe9385"/>
<circle cx="210.0" cy="56.3" r="4.55" fill="#fe9385"/>
<circle cx="213.0" cy="55.8" r="4.55" fill="#fe9285"/>
<circle cx="216.0" cy="56.2" r="4.55" fill="#fe9385"/>
<circle cx="219.0" cy="55.9" r="4.55" fill="#fe9385"/>
<circle cx="222.0" cy="56.3" r="4.55" fill="#fe9385"/>
<circle cx="225.0" cy="55.7" r="4.55" fill="#fe9284"/>
<circle cx="228.0" cy="56.3" r="4.55" fill="#fe9385"/>
<circle cx="231.0" cy="55.8" r="4.55" fill="#fe9284"/>
<circle cx="234.0" cy="56.0" r="4.55" fill="#fe9385"/>
<circle cx="237.0" cy="56.0" r="4.55" fill="#fe9385"/>
<circle cx="240.0" cy="55.7" r="4.55" fill="#fe9284"/>
<circle cx="243.0" cy="56.3" r="4.55" fill="#fe9385"/>
<circle cx="246.0" cy="55.8" r="4.55" fill="#fe9285"/>
<circle cx="249.0" cy="55.8" r="4.55" fill="#fe9285"/>
<circle cx="252.0" cy="55.7" r="4.55" fill="#fe9284"/>
<circle cx="255.0" cy="55.8" r="4.55" fill="#fe9285"/>
<circle cx="258.0" cy="56.0" r="4.55" fill="#fe9385"/>
<circle cx="261.0" cy="56.2" r="4.55" fill="#fe9385"/>
<circle cx="264.0" cy="55.9" r="4.55" fill="#fe9385"/>
<circle cx="267.0" cy="56.1" r="4.55" fill="#fe9385"/>
<circle cx="270.0" cy="55.7" r="4.55" fill="#fe9284"/>
<circle cx="273.0" cy="55.9" r="4.55" fill="#fe9385"/>
<circle cx="276.0" cy="56.0" r="4.55" fill="#fe9385"/>
<circle cx="279.0" cy="56.4" r="4.55" fill="#fe9385"/>
<circle cx="282.0" cy="56.3" r="4.55" fill="#fe9385"/>
<circle cx="285.0" cy="56.1" r="4.55" fill="#fe9385"/>
<circle cx="288.0" cy="55.6" r="4.55" fill="#fe9284"/>
<circle cx="291.0" cy="55.9" r="4.55" fill="#fe9385"/>
<circle cx="294.0" cy="56.2" r="4.55" fill="#fe9385"/>
<circle cx="297.0" cy="55.8" r="4.55" fill="#fe9284"/>
<circle cx="300.0" cy="56.1" r="4.55" fill="#fe9385"/>
<circle cx="303.0" cy="56.0" r="4.55" fill="#fe9385"/>
<circle cx="306.0" cy="55.6" r="4.55" fill="#fe9284"/>
<circle cx="309.0" cy="56.4" r="4.55" fill="#fe9385"/>
<circle cx="312.0" cy="56.2" r="4.55" fill="#fe9385"/>
<circle cx="174.0" cy="64.0" r="4.55" fill="#ff9c8f"/>
<circle cx="177.0" cy="64.3" r="4.55" fill="#ff9d8f"/>
<circle cx="180.0" cy="64.0" r="4.55" fill="#ff9d8f"/>
<circle cx="183.0" cy="64.1" r="4.55" fill="#ff9d8f"/>
<circle cx="186.0" cy="64.2" r="4.55" fill="#ff9d8f"/>
<circle cx="189.0" cy="64.0" r="4.55" fill="#ff9d8f"/>
<circle cx="192.0" cy="64.1" r="4.55" fill="#ff9d8f"/>
<circle cx="195.0" cy="64.1" r="4.55" fill="#ff9d8f"/>
<circle cx="198.0" cy="64.3" r="4.55" fill="#ff9d8f"/>
<circle cx="201.0" cy="64.0" r="4.55" fill="#ff9d8f"/>
<circle cx="204.0" cy="64.0" r="4.55" fill="#ff9c8f"/>
<circle cx="207.0" cy="64.4" r="4.55" fill="#ff9d90"/>
<circle cx="210.0" cy="64.1" r="4.55" fill="#ff9d8f"/>
<circle cx="213.0" cy="64.6" r="4.55" fill="#ff9d90"/>
<circle cx="216.0" cy="64.3" r="4.55" fill="#ff9d8f"/>
<circle cx="219.0" cy="64.4" r="4.55" fill="#ff9d90"/>
<circle cx="222.0" cy="64.1" r="4.55" fill="#ff9d8f"/>
<circle cx="225.0" cy="64.5" r="4.55" fill="#ff9d90"/>
<circle cx="228.0" cy="63.9" r="4.55" fill="#ff9c8f"/>
<circle cx="231.0" cy="63.9" r="4.55" fill="#ff9c8f"/>
<circle cx="234.0" cy="63.9" r="4.55" fill="#ff9c8f"/>
<circle cx="237.0" cy="64.3" r="4.55" fill="#ff9d8f"/>
<circle cx="240.0" cy="64.4" r="4.55" fill="#ff9d90"/>
<circle cx="243.0" cy="63.9" r="4.55" fill="#ff9c8f"/>
<circle cx="246.0" cy="64.1" r="4.55" fill="#ff9d8f"/>
<circle cx="249.0" cy="64.5" r="4.55" fill="#ff9d90"/>
<circle cx="252.0" cy="64.3" r="4.55" fill="#ff9d8f"/>
<circle cx="255.0" cy="63.9" r="4.55" fill="#ff9c8f"/>
<circle cx="258.0" cy="64.0" r="4.55" fill="#ff9c8f"/>
<circle cx="261.0" cy="63.9" r="4.55" fill="#ff9c8f"/>
<circle cx="264.0" cy="63.9" r="4.55" fill="#ff9c8f"/>
<circle cx="267.0" cy="64.1" r="4.55" fill="#ff9d8f"/>
<circle cx="270.0" cy="63.9" r="4.55" fill="#ff9c8f"/>
<circle cx="273.0" cy="64.5" r="4.55" fill="#ff9d90"/>
<circle cx="276.0" cy="64.1" r="4.55" fill="#ff9d8f"/>
<circle cx="279.0" cy="64.2" r="4.55" fill="#ff9d8f"/>
<circle cx="282.0" cy="64.3" r="4.55" fill="#ff9d8f"/>
<circle cx="285.0" cy="64.4" r="4.55" fill="#ff9d90"/>
<circle cx="288.0" cy="64.5" r="4.55" fill="#ff9d90"/>
<circle cx="291.0" cy="64.1" r="4.55" fill="#ff9d8f"/>
<circle cx="294.0" cy="64.1" r="4.55" fill="#ff9d8f"/>
<circle cx="297.0" cy="64.1" r="4.55" fill="#ff9d8f"/>
<circle cx="300.0" cy="63.8" r="4.55" fill="#ff9c8f"/>
<circle cx="303.0" cy="64.1" r="4.55" fill="#ff9d8f"/>
<circle cx="306.0" cy="64.4" r="4.55" fill="#ff9d8f"/>
<circle cx="309.0" cy="64.6" r="4.55" fill="#ff9d90"/>
<circle cx="312.0" cy="64.4" r="4.55" fill="#ff9d90"/>
<circle cx="116.0" cy="83.0" r="4.55" fill="#ffb4a8"/>
<circle cx="119.0" cy="83.0" r="4.55" fill="#ffb4a8"/>
<circle cx="122.0" cy="82.5" r="4.55" fill="#ffb3a7"/>
<circle cx="125.0" cy="82.8" r="4.55" fill="#ffb3a8"/>
<circle cx="128.0" cy="82.8" r="4.55" fill="#ffb3a8"/>
<circle cx="130.0" cy="65.7" r="4.55" fill="#ff9f91"/>
<circle cx="133.2" cy="65.3" r="4.55" fill="#ff9e91"/>
<circle cx="136.5" cy="65.5" r="4.55" fill="#ff9e91"/>
<circle cx="139.8" cy="65.6" r="4.55" fill="#ff9e91"/>
<circle cx="143.0" cy="65.8" r="4.55" fill="#ff9f91"/>
<circle cx="146.2" cy="65.9" r="4.55" fill="#ff9f91"/>
<circle cx="149.5" cy="65.7" r="4.55" fill="#ff9f91"/>
<circle cx="152.8" cy="65.3" r="4.55" fill="#ff9e91"/>
<circle cx="156.0" cy="65.8" r="4.55" fill="#ff9f91"/>
<circle cx="130.0" cy="78.7" r="4.55" fill="#ffaea2"/>
<circle cx="132.9" cy="78.3" r="4.55" fill="#ffaea2"/>
<circle cx="135.8" cy="78.2" r="4.55" fill="#ffaea2"/>
<circle cx="138.8" cy="78.3" r="4.55" fill="#ffaea2"/>
<circle cx="141.7" cy="77.9" r="4.55" fill="#ffada1"/>
<circle cx="144.6" cy="78.5" r="4.55" fill="#ffaea2"/>
<circle cx="147.5" cy="78.8" r="4.55" fill="#ffafa2"/>
<circle cx="150.4" cy="78.3" r="4.55" fill="#ffaea2"/>
<circle cx="153.3" cy="78.5" r="4.55" fill="#ffaea2"/>
<circle cx="156.2" cy="78.6" r="4.55" fill="#ffaea2"/>
<circle cx="159.2" cy="78.0" r="4.55" fill="#ffaea1"/>
<circle cx="162.1" cy="78.7" r="4.55" fill="#ffaea2"/>
<circle cx="165.0" cy="78.4" r="4.55" fill="#ffaea2"/>
<circle cx="212.0" cy="50.3" r="4.55" fill="#fc8c7d"/>
<circle cx="215.0" cy="50.0" r="4.55" fill="#fc8b7d"/>
<circle cx="226.0" cy="50.2" r="4.55" fill="#fc8b7d"/>
<circle cx="229.5" cy="50.0" r="4.55" fill="#fc8b7d"/>
<circle cx="255.0" cy="50.0" r="4.55" fill="#fc8b7d"/>
<circle cx="280.0" cy="50.2" r="4.55" fill="#fc8b7d"/>
<circle cx="218.4" cy="67.5" r="4.55" fill="#ffa194"/>
<circle cx="292.8" cy="68.5" r="4.55" fill="#ffa295"/>
<circle cx="291.3" cy="70.0" r="4.55" fill="#ffa497"/>
</g>
<line x1="112.3" x2="112.3" y1="33.5" y2="263.4" stroke="#6b0f38" stroke-width="1.4" stroke-dasharray="2.85 2.83"/>
<line x1="334.0" x2="334.0" y1="33.5" y2="263.4" stroke="#6b0f38" stroke-width="1.4" stroke-dasharray="2.85 2.83"/>
<line x1="46.7" x2="49.0" y1="41.20" y2="41.20" stroke="#333" stroke-width="0.9"/>
<text x="44.6" y="44.10" text-anchor="end" class="tick">1.00</text>
<line x1="46.7" x2="49.0" y1="93.70" y2="93.70" stroke="#333" stroke-width="0.9"/>
<text x="44.6" y="96.60" text-anchor="end" class="tick">0.75</text>
<line x1="46.7" x2="49.0" y1="146.20" y2="146.20" stroke="#333" stroke-width="0.9"/>
<text x="44.6" y="149.10" text-anchor="end" class="tick">0.50</text>
<line x1="46.7" x2="49.0" y1="198.70" y2="198.70" stroke="#333" stroke-width="0.9"/>
<text x="44.6" y="201.60" text-anchor="end" class="tick">0.25</text>
<line x1="46.7" x2="49.0" y1="251.20" y2="251.20" stroke="#333" stroke-width="0.9"/>
<text x="44.6" y="254.10" text-anchor="end" class="tick">0.00</text>
<line y1="260.6" y2="263.40000000000003" x1="173.00" x2="173.00" stroke="#333" stroke-width="0.9"/>
<text x="173.00" y="271.9" text-anchor="middle" class="tick">152200000</text>
<line y1="260.6" y2="263.40000000000003" x1="310.70" x2="310.70" stroke="#333" stroke-width="0.9"/>
<text x="310.70" y="271.9" text-anchor="middle" class="tick">152300000</text>
<line y1="260.6" y2="263.40000000000003" x1="448.40" x2="448.40" stroke="#333" stroke-width="0.9"/>
<text x="448.40" y="271.9" text-anchor="middle" class="tick">152400000</text>
<rect x="63.9" y="20.4" width="23.2" height="10.3" fill="#b00054"/>
<text x="54.0" y="15.0" class="gene" textLength="44.0" lengthAdjust="spacingAndGlyphs">RPTN</text>
<rect x="141.5" y="20.4" width="28.3" height="10.3" fill="#b00054"/>
<text x="133.1" y="15.0" class="gene" textLength="46.0" lengthAdjust="spacingAndGlyphs">HRNR</text>
<rect x="256.6" y="20.4" width="41.0" height="10.3" fill="#b00054"/>
<text x="262.4" y="15.0" class="gene" textLength="29.6" lengthAdjust="spacingAndGlyphs">FLG</text>
<rect x="337.7" y="20.4" width="27.7" height="10.3" fill="#b00054"/>
<text x="332.4" y="15.0" class="gene" textLength="39.5" lengthAdjust="spacingAndGlyphs">FLG2</text>
<rect x="423" y="20.4" width="23.2" height="10.3" fill="#b00054"/>
<text x="411.1" y="15.0" class="gene" textLength="46.6" lengthAdjust="spacingAndGlyphs">CRNN</text>
<text x="138.2" y="107.5" class="anno" font-style="italic" textLength="61.9" lengthAdjust="spacingAndGlyphs">Huxian</text>
<text x="204.6" y="107.5" class="anno" textLength="104.4" lengthAdjust="spacingAndGlyphs">Haplogroup</text>
<text x="147" y="297.5" class="title" textLength="202.2" lengthAdjust="spacingAndGlyphs">Chromosome locus on chr1</text>
<text transform="translate(14.8,147.7) rotate(-90)" class="title2" style="font-size:16.2px">LD R<tspan dy="-4.4" font-size="10.5">2</tspan></text>
<text x="472.9" y="91.3" class="title2">LD R<tspan dy="-4.4" font-size="10.5">2</tspan></text>
<defs><linearGradient id="cb" x1="0" y1="1" x2="0" y2="0">
<stop offset="0.0000" stop-color="#5489b8"/>
<stop offset="0.0417" stop-color="#6492be"/>
<stop offset="0.0833" stop-color="#749cc4"/>
<stop offset="0.1250" stop-color="#82a5ca"/>
<stop offset="0.1667" stop-color="#91afd0"/>
<stop offset="0.2083" stop-color="#9fb9d6"/>
<stop offset="0.2500" stop-color="#adc2dc"/>
<stop offset="0.2917" stop-color="#bbcce2"/>
<stop offset="0.3333" stop-color="#c8d6e8"/>
<stop offset="0.3750" stop-color="#d6e0ed"/>
<stop offset="0.4167" stop-color="#e4ebf3"/>
<stop offset="0.4583" stop-color="#f2f5f9"/>
<stop offset="0.5000" stop-color="#ffffff"/>
<stop offset="0.5417" stop-color="#fff5f3"/>
<stop offset="0.5833" stop-color="#ffebe7"/>
<stop offset="0.6250" stop-color="#ffe1dc"/>
<stop offset="0.6667" stop-color="#ffd7d0"/>
<stop offset="0.7083" stop-color="#ffcdc5"/>
<stop offset="0.7500" stop-color="#ffc4ba"/>
<stop offset="0.7917" stop-color="#ffbaaf"/>
<stop offset="0.8333" stop-color="#ffb0a4"/>
<stop offset="0.8750" stop-color="#ffa699"/>
<stop offset="0.9167" stop-color="#ff9c8e"/>
<stop offset="0.9583" stop-color="#fe9284"/>
<stop offset="1.0000" stop-color="#fc8779"/>
</linearGradient></defs>
<rect x="472.4" y="102.6" width="20.9" height="103.80000000000001" fill="url(#cb)"/>
<text x="498" y="130.05" class="leg">0.75</text>
<text x="498" y="157.57" class="leg">0.50</text>
<text x="498" y="185.08" class="leg">0.25</text>
</svg>
</body></html>
